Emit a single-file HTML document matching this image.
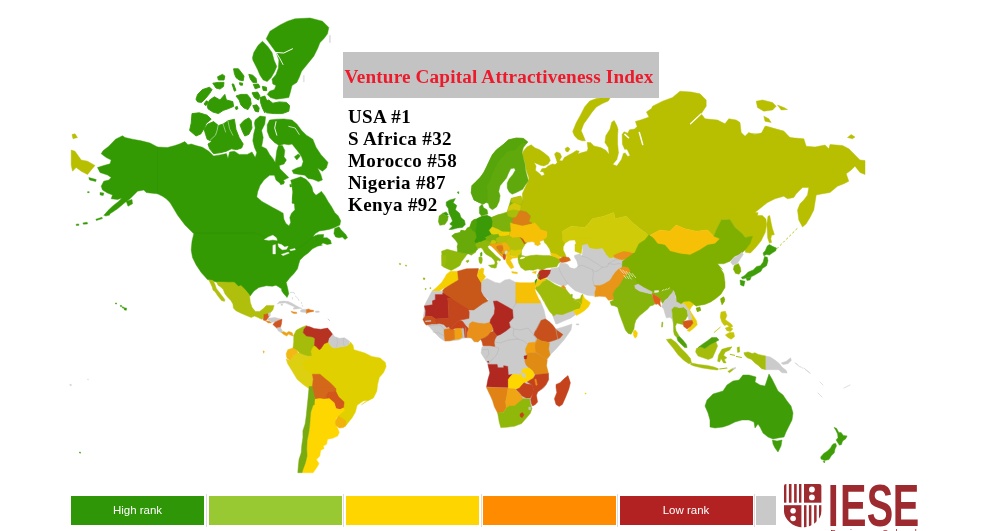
<!DOCTYPE html>
<html><head><meta charset="utf-8"><title>Venture Capital Attractiveness Index</title>
<style>
html,body{margin:0;padding:0;background:#fff;}
body{width:1000px;height:531px;position:relative;overflow:hidden;font-family:"Liberation Sans",sans-serif;}
#map{position:absolute;left:0;top:0;}
.title{position:absolute;left:343px;top:52px;width:316px;height:45.5px;background:#c3c3c3;}
.title span{position:absolute;left:-2px;top:14.6px;width:316px;text-align:center;font-family:"Liberation Serif",serif;font-weight:bold;font-size:19.2px;letter-spacing:.16px;line-height:20px;color:#ec1a2b;white-space:nowrap;}
.ranks{position:absolute;left:348px;top:105.8px;font-family:"Liberation Serif",serif;font-weight:bold;font-size:19px;letter-spacing:.4px;line-height:22px;color:#000;white-space:nowrap;}
.lg{position:absolute;top:496px;height:29px;}
.lg span{display:block;text-align:center;color:#fff;font-size:11.5px;line-height:28px;}
.sep{position:absolute;top:494px;width:1px;height:33px;background:#ddd;}
.iese{position:absolute;left:828px;top:476px;font-family:"Liberation Sans",sans-serif;font-size:52px;line-height:58px;color:#9e2a2b;transform-origin:0 0;transform:scaleX(0.78);letter-spacing:-1px;white-space:nowrap;}
.bs{position:absolute;left:829px;top:527px;font-size:8px;color:#9e2a2b;white-space:nowrap;letter-spacing:.5px}
</style></head><body>
<svg id="map" width="1000" height="531" viewBox="0 0 1000 531" shape-rendering="geometricPrecision">
<path d="M71.2 150L75 151.2L81.2 160L87.5 161.2L95 165.5L91.2 170L87.5 174.5L81.2 171.2L76.2 167.5L72.5 171.2L71.2 165Z" fill="#b7bf00" stroke="#b7bf00" stroke-width="0.45" stroke-linejoin="round"/>
<path d="M72 134.5L75 133.8L77.5 137.5L73 138.8Z" fill="#b7bf00" stroke="#b7bf00" stroke-width="0.45" stroke-linejoin="round"/>
<path d="M101.2 153.8L103 150.8L108.8 146.2L115.5 139.2L122.5 135.8L125 137.5L132.5 139.2L141.2 140.8L150 143L157.5 147L167.5 147.5L175 145.5L180 143.8L184.8 141.6L188 144.8L191.2 144L196 145.6L202.4 147.2L208.8 151.2L213.6 156L220 154.9L226.4 153.6L228 158.4L229.6 152L234.4 151.2L239.2 154.4L247.2 154.4L252 152L255.2 157.6L256.8 152.8L254.4 147.2L252.8 140.8L253.6 134.4L255.2 128L254.4 123.2L255.2 120L260 116L265.6 116.8L264.8 124L261.6 130.4L263.2 137.6L262.4 142.4L261.6 146.4L266.4 148.8L269.6 154.4L272.8 158.4L275.2 162.4L276 156.8L276.8 150.4L278.4 145.6L282.4 145.6L284.8 150.4L284 156.8L286.4 160L284 164L279.2 165.6L280 168.8L284 172.8L288.8 177.6L284 180L280 183.2L276 180L274.4 175.2L269.6 175.2L264 180L260 185.6L257.6 192L256.8 196.8L256.8 197.1L261.9 201.4L267.8 204.7L273.7 208.1L278.8 210.7L283.1 213.2L283.9 219.2L285.9 223.4L289 225.9L290.7 222.5L289.8 217.5L291.5 213.2L294.9 209.8L294.4 203.9L292.4 198.8L293.2 192L292.4 186.9L290.7 180.2L295.8 178.5L300.8 176.8L305.9 179.3L309.3 182.7L311.9 186.9L313.1 192L315.3 197.1L317.8 200.5L320.3 195.4L321.2 191.2L324.6 195.4L328 201.4L331.4 206.4L334.7 212.4L338.1 215.8L340.7 220.8L339.8 225.1L334.7 227.6L329.7 229.3L324.6 230.2L319.5 231L315.3 233.6L312.7 236.9L317.8 234.7L323.7 234.4L323.2 237.8L327.1 237.8L330.5 240.3L331.4 243.7L327.1 244.6L322.9 242.9L320.3 245.4L322.5 245L317.5 246.2L312.5 248.8L308.8 252.5L303.8 256.2L300 260L298.8 263.8L297.5 268.8L293.8 273.8L290 277.5L286.2 282.5L287.5 287.5L288.8 293.8L287 297.5L285.8 296L283.5 293.5L281.8 291L281.5 288.8L278.5 286.8L276 285.2L272.5 286.2L266.2 285.8L258.8 287.5L253.8 291.2L250 296.2L245 291.2L240 286.2L236.2 287.5L231.2 283.8L225 282.5L216.2 282L207.5 279.5L201.2 272.5L196.2 265L192.5 257.5L191.2 250L192 241.2L193.8 233.8L185 225L181.2 220L177.5 215L173.8 208.8L170 202.5L166.2 198.8L162.5 196.2L157.5 193.8L150 193L146.2 192.5L143.8 190L137.5 191.2L133.8 195L130 198.8L125 202.5L117.5 208.8L110 213.8L103.8 215.5L108 210.5L112.5 206.2L118.8 201.2L122 198L117.5 199.5L111.2 198.8L112.5 195L107.5 193L102.5 190L101.2 186.2L103.8 181.2L108.8 180L111.2 177.5L107.5 175L100 172.5L97.5 167.5L103.8 165.5L110 163.8L111.2 160L106.2 157.5Z" fill="#349a03" stroke="#349a03" stroke-width="0.45" stroke-linejoin="round"/>
<path d="M88.8 177.5L96.2 179.5L95.8 181.5L89.5 180Z" fill="#349a03" stroke="#349a03" stroke-width="0.45" stroke-linejoin="round"/>
<path d="M100 192.5L103.8 193L103.2 195.5L100.2 195Z" fill="#349a03" stroke="#349a03" stroke-width="0.45" stroke-linejoin="round"/>
<path d="M126.2 201.2L132 199.5L132.5 203.8L128 206.2Z" fill="#349a03" stroke="#349a03" stroke-width="0.45" stroke-linejoin="round"/>
<path d="M104.9 214.4L109.2 213.4L109.7 215.1L105.4 216.1Z" fill="#349a03" stroke="#349a03" stroke-width="0.45" stroke-linejoin="round"/>
<path d="M95.9 219.2L102 217.3L102.4 218.6L96.4 220.5Z" fill="#349a03" stroke="#349a03" stroke-width="0.45" stroke-linejoin="round"/>
<path d="M82.9 222.9L87.1 222.2L87.5 223.9L83.4 224.2Z" fill="#349a03" stroke="#349a03" stroke-width="0.45" stroke-linejoin="round"/>
<path d="M76.1 224.2L78.6 223.9L79 225.3L76.4 225.6Z" fill="#349a03" stroke="#349a03" stroke-width="0.45" stroke-linejoin="round"/>
<path d="M87.6 191.7L89.2 191.7L89.2 192.7L87.6 192.7Z" fill="#349a03" stroke="#349a03" stroke-width="0.45" stroke-linejoin="round"/>
<path d="M216.4 281.9L225.8 282.2L234.2 282.2L238.5 286.4L241 285.6L245.3 289.8L249.5 295.1L250.3 302.2L252 307.3L255.4 311.5L259.7 311.5L263.9 308.1L266.4 305.6L274.1 305.6L272.9 309.8L270.7 312.4L268.1 313.7L264.7 314.4L263.9 318.3L261.4 319.2L258 317.5L254.6 316.1L251.2 317.5L246.9 315.8L241 313.2L235.9 310.7L233.4 308.1L232.9 303.9L230.8 300.5L227.5 297.1L224.9 293.7L223.2 289.5L220.7 286.9L218.1 285.3Z" fill="#b0bf0c" stroke="#b0bf0c" stroke-width="0.45" stroke-linejoin="round"/>
<path d="M208.8 279.8L213.1 280.5L214.7 283.6L216.4 288.6L219.8 292.9L222.4 296.3L224.9 299.7L224.4 301.4L221.5 300.5L218.1 296.3L214.7 291.2L213.1 290.3L212.2 286.9L210.5 283.6Z" fill="#b0bf0c" stroke="#b0bf0c" stroke-width="0.45" stroke-linejoin="round"/>
<path d="M334.7 228.5L339 226.8L340.7 229.3L343.2 231.9L345.8 234.4L347.5 237.8L344.9 239.5L342.4 236.9L339 237.8L335.6 236.9L333.9 233.6Z" fill="#349a03" stroke="#349a03" stroke-width="0.45" stroke-linejoin="round"/>
<path d="M264.4 239.5L268.6 236.9L272.9 235.3L276.3 237.8L277.1 240.3L272.9 239.8L268.6 240.3Z" fill="#ffffff" stroke="#ffffff" stroke-width="0.45" stroke-linejoin="round"/>
<path d="M272.9 245.4L275.4 244.6L275.4 253.9L272.9 253.9Z" fill="#ffffff" stroke="#ffffff" stroke-width="0.45" stroke-linejoin="round"/>
<path d="M278 243.7L281.4 244.6L284.7 247.1L288.1 246.3L286.4 249.3L282.2 249.7L278.8 247.1Z" fill="#ffffff" stroke="#ffffff" stroke-width="0.45" stroke-linejoin="round"/>
<path d="M281.4 254.4L288.1 252.2L289.3 253.1L283.1 255.6Z" fill="#ffffff" stroke="#ffffff" stroke-width="0.45" stroke-linejoin="round"/>
<path d="M289.8 249.7L294.9 248.5L295.4 249.7L290.7 250.7Z" fill="#ffffff" stroke="#ffffff" stroke-width="0.45" stroke-linejoin="round"/>
<path d="M279.7 181.5L283.6 181L283.9 183.9L280.5 184.6Z" fill="#349a03" stroke="#349a03" stroke-width="0.45" stroke-linejoin="round"/>
<path d="M289.8 184.4L291.5 184.4L291.7 186.9L290 186.9Z" fill="#349a03" stroke="#349a03" stroke-width="0.45" stroke-linejoin="round"/>
<path d="M196.2 233L254.8 233L261.6 235.5L265.9 237.6" fill="none" stroke="#2f8d0a" stroke-width="0.45" stroke-linejoin="round" stroke-linecap="round"/>
<path d="M295.6 248.8L302.4 245.7L306.7 242.3L311 238.1L316.1 235.5L318.1 237.6L316.1 240.6" fill="none" stroke="#2f8d0a" stroke-width="0.45" stroke-linejoin="round" stroke-linecap="round"/>
<path d="M157.5 147L157.5 193.8" fill="none" stroke="#2f8d0a" stroke-width="0.45" stroke-linejoin="round" stroke-linecap="round"/>
<path d="M295 18.8L310 18L322.5 21.2L328.8 27.5L327.5 33.8L323.8 38.8L320 42.5L317.5 48.8L313.8 56.2L301.6 71.2L299.2 77.6L296.8 82.4L292 85.6L290.4 92L288.8 97.6L282.4 98.4L276 99.2L270.4 97.6L267.2 94.4L269.6 91.2L274.4 89.6L276 85.6L272.8 84L272 79.2L276 74.4L278.4 68L278.9 60L276.2 52.5L272.5 47.5L266.2 38.8L270 31.2L280 25L287.5 21.2Z" fill="#349a03" stroke="#349a03" stroke-width="0.45" stroke-linejoin="round"/>
<path d="M258 45.5L262.5 41.2L267.5 46.2L272 52.5L274 60L276.8 66.4L274.4 72L271.2 77.6L267.2 81.6L263.2 80L260 75.2L257.6 69.6L255.2 64.8L252.8 60L252.5 57.5L253.8 52.5Z" fill="#349a03" stroke="#349a03" stroke-width="0.45" stroke-linejoin="round"/>
<path d="M276.2 52.5L283.8 53L292.5 48.8" fill="none" stroke="#ffffff" stroke-width="1" stroke-linejoin="round" stroke-linecap="round"/>
<path d="M276.2 52.5L280 58.8L283 64.5" fill="none" stroke="#ffffff" stroke-width="0.9" stroke-linejoin="round" stroke-linecap="round"/>
<path d="M263.2 101.6L268.8 100L272.8 103.2L279.2 101.9L286.4 102.4L289.6 105.6L288.8 111.2L282.4 113.6L274.4 113.6L266.4 112.8L263.2 108Z" fill="#349a03" stroke="#349a03" stroke-width="0.9" stroke-linejoin="round"/>
<path d="M260 97.6L264.8 96L267.2 101.6L264.8 112.8L262.4 108L260.8 103.2Z" fill="#349a03" stroke="#349a03" stroke-width="0.9" stroke-linejoin="round"/>
<path d="M233.6 68.8L238.4 68.8L241.6 72.8L244 76L243.2 80.8L239.2 80L236 77.6L234.4 73.6Z" fill="#349a03" stroke="#349a03" stroke-width="0.9" stroke-linejoin="round"/>
<path d="M248.8 74.4L252.8 75.2L256 78.4L256.8 82.4L252.8 82.4L250.4 79.2Z" fill="#349a03" stroke="#349a03" stroke-width="0.9" stroke-linejoin="round"/>
<path d="M217.6 76.8L222.4 74.4L224.8 76L224 80L218.4 80Z" fill="#349a03" stroke="#349a03" stroke-width="0.9" stroke-linejoin="round"/>
<path d="M212.8 83.2L218.4 82.4L224 82.4L223.5 86.4L220 89.1L216 88Z" fill="#349a03" stroke="#349a03" stroke-width="0.9" stroke-linejoin="round"/>
<path d="M232 84L233.6 84L236 90.4L234.4 91.2Z" fill="#349a03" stroke="#349a03" stroke-width="0.9" stroke-linejoin="round"/>
<path d="M253.3 84.3L258.4 84L260 87.2L255.2 88.8Z" fill="#349a03" stroke="#349a03" stroke-width="0.9" stroke-linejoin="round"/>
<path d="M262.4 86.4L266.4 87.2L266.7 90.7L263.2 90.4Z" fill="#349a03" stroke="#349a03" stroke-width="0.9" stroke-linejoin="round"/>
<path d="M239.5 82.7L242.7 83.2L242.4 85.3L240 85Z" fill="#349a03" stroke="#349a03" stroke-width="0.9" stroke-linejoin="round"/>
<path d="M196 99.2L197.6 94.4L202.4 89.6L209.6 87.2L212 89.6L209.6 93.6L205.6 98.4L201.6 102.4L197.6 101.9Z" fill="#349a03" stroke="#349a03" stroke-width="0.9" stroke-linejoin="round"/>
<path d="M204 104L206.4 100.8L208.5 101.9L205.9 105.6Z" fill="#349a03" stroke="#349a03" stroke-width="0.9" stroke-linejoin="round"/>
<path d="M207.2 105.6L209.6 100L214.4 96.8L220 100L224.8 94.4L226.4 100L232.8 101.6L233.6 106.4L228 108.8L223.2 110.4L218.4 113.6L212.8 112L208 108.8Z" fill="#349a03" stroke="#349a03" stroke-width="0.9" stroke-linejoin="round"/>
<path d="M235.2 107.2L237.3 106.4L237.9 108.8L236 109.6Z" fill="#349a03" stroke="#349a03" stroke-width="0.9" stroke-linejoin="round"/>
<path d="M236 96L240.8 94.4L247.2 94.4L250.4 98.4L251.2 104L248 109.6L244 108L240.8 104.8L239.2 100Z" fill="#349a03" stroke="#349a03" stroke-width="0.9" stroke-linejoin="round"/>
<path d="M252 92.8L257.6 92L260 96L258.4 100L254.4 97.6Z" fill="#349a03" stroke="#349a03" stroke-width="0.9" stroke-linejoin="round"/>
<path d="M252.8 105.6L256.8 104.8L259.2 108L258.4 112L255.2 111.2Z" fill="#349a03" stroke="#349a03" stroke-width="0.9" stroke-linejoin="round"/>
<path d="M192 113.6L199.2 112.8L207.2 115.2L211.2 119.2L206.4 123.2L204 128.8L200.8 133.9L196 136L189.6 130.4L191.2 123.2Z" fill="#349a03" stroke="#349a03" stroke-width="0.9" stroke-linejoin="round"/>
<path d="M204 128.8L208 124L213.6 121.6L218.4 125.6L223.2 124L228 120.8L234.4 119.2L236 129.6L239.2 137.6L243.2 144L241.6 148L236.8 149.6L231.2 148.8L226.4 151.2L220 152.8L213.6 153.6L209.6 148.8L208 144L212 141.6L207.2 139.2L205.6 134.4Z" fill="#349a03" stroke="#349a03" stroke-width="0.9" stroke-linejoin="round"/>
<path d="M240 124.8L244 120.5L248.8 117.9L251.2 120.8L252 128L248.8 134.4L244.8 136L242.4 131.2Z" fill="#349a03" stroke="#349a03" stroke-width="0.9" stroke-linejoin="round"/>
<path d="M218.1 125.3L217.1 130.4L215.5 135.2L210.4 140" fill="none" stroke="#ffffff" stroke-width="0.5" stroke-linejoin="round" stroke-linecap="round"/>
<path d="M228 121.1L229.6 128.8L232.8 135.2" fill="none" stroke="#ffffff" stroke-width="0.45" stroke-linejoin="round" stroke-linecap="round"/>
<path d="M223.2 124.3L225.6 132" fill="none" stroke="#ffffff" stroke-width="0.45" stroke-linejoin="round" stroke-linecap="round"/>
<path d="M269.6 120L276 119.2L284 118.9L292 120L296.8 124L301.6 130.4L306.4 135.2L312.8 139.2L316 147.2L320.8 154.4L328 162.4L326.4 168L322.4 171.2L317.6 168L320.8 174.4L322.4 180L318.4 181.6L312.8 179.2L308 178.4L304.8 175.2L299.2 174.4L293.6 173.6L292 170.4L296.8 168L301.6 166.4L303.2 161.6L301.6 156.8L298.4 152L295.2 148L292 144L288.8 144.8L284 144L279.2 145.6L274.4 142.4L269.6 137.6L267.2 131.2L267.2 124.8Z" fill="#349a03" stroke="#349a03" stroke-width="0.45" stroke-linejoin="round"/>
<path d="M276 121.6L274.7 128L276.8 135.2" fill="none" stroke="#ffffff" stroke-width="0.9" stroke-linejoin="round" stroke-linecap="round"/>
<path d="M288.8 126.4L295.2 128L299.2 134.4" fill="none" stroke="#ffffff" stroke-width="0.7" stroke-linejoin="round" stroke-linecap="round"/>
<path d="M292 184L298.4 182.4L304.8 185.6L311.2 190.4L316 195.2L320.8 192L324 196.8L326.4 203.2L320.8 206.4L311.2 207.2L301.6 204.8L292 203.2L292.8 192Z" fill="#349a03" stroke="#349a03" stroke-width="0.45" stroke-linejoin="round"/>
<path d="M294.4 156.8L298.4 153.9L300.3 156L296.8 160Z" fill="#349a03" stroke="#349a03" stroke-width="0.45" stroke-linejoin="round"/>
<path d="M280 182.7L283.2 180.8L284.8 182.1L281.1 184.3Z" fill="#349a03" stroke="#349a03" stroke-width="0.45" stroke-linejoin="round"/>
<path d="M309.8 356.4L309 351.4L310.7 347.1L313.2 343.7L315.8 345.4L318.3 348L320.8 347.1L323.9 342.4L328.5 340.3L329.3 343.7L331.9 347.1L335.3 348L340.3 346.8L345.4 346.3L348.8 344.6L350.5 342L353.1 345.4L353.9 349.7L359.8 351.4L364.9 353.1L371.7 356.4L380.2 358.1L385.3 362.4L386.1 366.6L383.6 372.5L379.3 377.6L377.6 384.4L376.8 391.2L373.4 398L366.6 401.4L361.5 404.7L374.1 395.9L368.1 400.2L363.1 401L357.1 405.3L355.4 412L352 418L347.8 423.1L345.3 426.4L341 426.4L337.6 422.2L337.6 415.4L342.7 411.2L341.9 401.9L336.8 396.8L334.2 390.8L334.4 394.6L332.7 386.9L328.5 383.6L324.2 380.2L318.3 375.9L310.7 375.9L306.4 372.5L302.2 370L300.5 364.1L303.1 359.8Z" fill="#e0d000" stroke="#e0d000" stroke-width="0.45" stroke-linejoin="round"/>
<path d="M286.1 359L290.3 360.7L293.7 355.6L298 353.1L299.7 353.1L303.9 354.7L308.1 355.9L311.5 355.6L310.7 359L304.7 360.7L302.2 364.1L303.9 369.2L308.1 371.7L312.4 374.2L313.2 379.3L312.4 385.3L311.5 389.5L309 388.6L303.1 384.4L297.1 379.3L292 370.8L287.8 364.1Z" fill="#ddd010" stroke="#ddd010" stroke-width="0.45" stroke-linejoin="round"/>
<path d="M312.4 374.2L320 374.2L325.9 379.3L330.2 382.7L334.4 386.9L336.1 392.9L328.5 392.9L326.8 398.8L319.2 399.3L314.9 397.1L312.4 391.2L311.5 389.5L312.4 385.3L313.2 379.3Z" fill="#d4681a" stroke="#d4681a" stroke-width="0.45" stroke-linejoin="round"/>
<path d="M312.2 388.3L335.9 388.3L335.9 391.7L328.3 392.5L325.8 396.8L324.9 399.3L319.8 398.5L314.7 399.3L313.9 395.1Z" fill="#d4681a" stroke="#d4681a" stroke-width="0.45" stroke-linejoin="round"/>
<path d="M328.3 392.5L335.9 391.7L338.5 396.8L344.1 401.9L343.6 407.8L340.2 409.5L335.9 408.6L334.2 402.7L329.2 398.5L325.8 396.8Z" fill="#d2571c" stroke="#d2571c" stroke-width="0.45" stroke-linejoin="round"/>
<path d="M328.5 392.9L336.1 392.9L338.6 398L341.2 401.4L337.8 404.7L331 401.4L326.8 398.8Z" fill="#d2571c" stroke="#d2571c" stroke-width="0.45" stroke-linejoin="round"/>
<path d="M314.7 399.3L319.8 398.5L324.9 399.3L329.2 398.5L334.2 402.7L335.9 408.6L340.2 409.5L343.6 407.8L344.4 410.3L338.5 415.4L335.9 418.8L335.1 423.9L337.6 428.1L339.3 432.4L337.6 436.1L332.5 438.3L327.5 439.2L326.6 444.2L323.2 445.9L324.1 448.5L320.7 450.2L319.8 456.1L316.4 459.5L319 463.7L316.4 468L313.1 472.7L302 472.7L302.9 469.7L305.4 462.9L307.1 456.1L306.8 449.3L307.1 440.8L308.8 432.4L309.7 425.6L310.2 418.8L310.8 412L313.1 405.3Z" fill="#ffd700" stroke="#ffd700" stroke-width="0.45" stroke-linejoin="round"/>
<path d="M335.9 419.7L338.5 416.3L341.9 418L345.3 420.5L346.1 424.7L343.6 427.6L339.3 428.1L335.9 425.6L335.1 423.1Z" fill="#f2b20c" stroke="#f2b20c" stroke-width="0.45" stroke-linejoin="round"/>
<path d="M309.2 386.6L312.2 386.6L313.9 395.1L314.7 399.3L313.1 405.3L310.8 412L310.2 418.8L309.7 425.6L308.8 432.4L307.1 440.8L306.8 449.3L307.1 456.1L305.4 462.9L302.9 469.7L302 472.7L297.8 472.7L298.3 466.3L299 459.5L301.2 452.7L301.7 445.9L302.9 437.5L302.9 430.7L305.1 423.9L306.3 415.4L307.1 406.9L308 398.5Z" fill="#78ab10" stroke="#78ab10" stroke-width="0.45" stroke-linejoin="round"/>
<path d="M309.3 389.2L311.5 389.5L312.4 391.2L314.4 397.1L314.4 404.7L310.7 404.7L309.3 399.7Z" fill="#78ab10" stroke="#78ab10" stroke-width="0.45" stroke-linejoin="round"/>
<path d="M293.7 335.3L296.3 330.2L301.4 327.6L306.4 325.4L303.9 329.3L303.1 332.7L306.4 336.1L312.4 336.9L314.9 338.6L314.4 345.4L312 348L310.7 351.4L311.5 355.6L308.1 355.9L303.9 354.7L299.7 353.1L297.1 350.5L292.9 348.8L293.7 342Z" fill="#a5bd0a" stroke="#a5bd0a" stroke-width="0.45" stroke-linejoin="round"/>
<path d="M303.9 329.3L306.4 325.9L309.8 326.8L314.1 328.5L320.8 329.3L327.6 328.1L330.2 331L332.7 334.4L329.3 338.6L328.5 342L324.2 343.7L320.8 348.8L319.2 349.7L315.8 346.3L314.4 345.4L314.9 338.6L312.4 336.9L306.4 336.1L303.1 332.7Z" fill="#b83222" stroke="#b83222" stroke-width="0.45" stroke-linejoin="round"/>
<path d="M332.7 334.4L335.3 336.9L339.5 338.3L344.6 337.8L349.7 341.2L348.8 344.6L345.4 346.3L340.3 346.8L335.3 348L331.9 347.1L329.3 343.7L328.5 342L329.3 338.6Z" fill="#cbcbcb" stroke="#cbcbcb" stroke-width="0.45" stroke-linejoin="round"/>
<path d="M336.4 337.8L337.8 342L336.1 347.5" fill="none" stroke="#b9b9b9" stroke-width="0.5" stroke-linejoin="round" stroke-linecap="round"/>
<path d="M343.7 338.3L343.2 342.9L344.6 346.3" fill="none" stroke="#b9b9b9" stroke-width="0.5" stroke-linejoin="round" stroke-linecap="round"/>
<path d="M287.8 349.7L292.9 348L297.1 350.5L298 353.1L293.7 355.6L290.3 360.7L286.9 358.1L286.1 353.9Z" fill="#f2b814" stroke="#f2b814" stroke-width="0.45" stroke-linejoin="round"/>
<path d="M263.1 350.8L264.4 351.6L263.6 353.2Z" fill="#f2a814" stroke="#f2a814" stroke-width="0.45" stroke-linejoin="round"/>
<path d="M263.9 314.4L268.1 313.7L269 316.6L267.3 319.2L265.6 320.8L263.1 320L263.9 317.5Z" fill="#d45a1c" stroke="#d45a1c" stroke-width="0.45" stroke-linejoin="round"/>
<path d="M268.6 313.2L270.3 312.4L270.3 316.1L269 316.6Z" fill="#cbcbcb" stroke="#cbcbcb" stroke-width="0.45" stroke-linejoin="round"/>
<path d="M265.6 320.8L269.8 321.2L271.5 322.9L268.1 322.9Z" fill="#e8901a" stroke="#e8901a" stroke-width="0.45" stroke-linejoin="round"/>
<path d="M268.1 318.3L274.9 317.5L281.7 319.2L278.3 320.5L274.9 322.2L271.5 322.2L269.8 320.8L267.3 319.5Z" fill="#cbcbcb" stroke="#cbcbcb" stroke-width="0.45" stroke-linejoin="round"/>
<path d="M274.9 322.2L278.3 320.5L282 319.2L281.4 324.2L280.3 327.6L276.6 328L272.9 324.6Z" fill="#cf5420" stroke="#cf5420" stroke-width="0.45" stroke-linejoin="round"/>
<path d="M276.6 328L280.3 327.6L282.5 331L281.4 332.7L278.3 331Z" fill="#cbcbcb" stroke="#cbcbcb" stroke-width="0.45" stroke-linejoin="round"/>
<path d="M281.4 332.4L283.7 331.4L286.4 333.1L288.8 331.4L292.2 332.7L293.2 336.1L291 335.3L288.5 334.1L286.8 336.1L283.7 334.4Z" fill="#eba41a" stroke="#eba41a" stroke-width="0.45" stroke-linejoin="round"/>
<path d="M277.2 304.1L279.3 301.5L283.6 301.1L288.2 301.5L292 303.2L296.3 305.8L299.7 307.5L301.8 308.3L298 308.7L293.7 309.2L293.3 307.9L295.4 307.2L292 305.8L288.2 304.1L285.3 302.8L281.9 303.2L279.3 303.2Z" fill="#cbcbcb" stroke="#cbcbcb" stroke-width="0.45" stroke-linejoin="round"/>
<path d="M281 304.3L282.5 304.3L282.5 305.3L281 305.3Z" fill="#cbcbcb" stroke="#cbcbcb" stroke-width="0.45" stroke-linejoin="round"/>
<path d="M291.2 311.3L293.7 311.9L296.7 312.3L296.7 313.4L293.7 313.4L291.6 312.3Z" fill="#e8901a" stroke="#e8901a" stroke-width="0.45" stroke-linejoin="round"/>
<path d="M300.5 310.4L302.2 309.2L306.3 309.4L306.3 312.5L303.9 312.3L300.7 311.9Z" fill="#cbcbcb" stroke="#cbcbcb" stroke-width="0.45" stroke-linejoin="round"/>
<path d="M306.4 309.6L308.6 308.9L310.7 310L313.6 310.3L313.6 311.4L310.7 311.9L308.1 312.5L306.4 313.6Z" fill="#e07820" stroke="#e07820" stroke-width="0.45" stroke-linejoin="round"/>
<path d="M315.3 311.1L319.2 311.1L319.2 312.3L315.8 312.5Z" fill="#cbcbcb" stroke="#cbcbcb" stroke-width="0.45" stroke-linejoin="round"/>
<path d="M290.3 292.6L292.2 292.3L294.2 292.8L294.6 293.8" fill="none" stroke="#d6d6d6" stroke-width="0.9" stroke-linejoin="round" stroke-linecap="round"/>
<path d="M295.3 296L296.9 297.5L298.5 299L298.8 300.4" fill="none" stroke="#d6d6d6" stroke-width="0.8" stroke-linejoin="round" stroke-linecap="round"/>
<path d="M292.3 297.5L292.5 299" fill="none" stroke="#d6d6d6" stroke-width="0.8" stroke-linejoin="round" stroke-linecap="round"/>
<path d="M301.4 302.4L301.7 303.6" fill="none" stroke="#d6d6d6" stroke-width="0.8" stroke-linejoin="round" stroke-linecap="round"/>
<path d="M302.2 305.2L302.5 306.2" fill="none" stroke="#d6d6d6" stroke-width="0.8" stroke-linejoin="round" stroke-linecap="round"/>
<path d="M328.1 319.1L329.7 320.6" fill="none" stroke="#cbcbcb" stroke-width="0.9" stroke-linejoin="round" stroke-linecap="round"/>
<path d="M522.7 151.9L526.9 146.9L531.2 144.8L534.7 147.7L539.7 149.8L544.6 153.3L548.8 156.8L550.3 160.4L548.1 163.9L543.9 166L540.4 165.3L537.5 163.9L534 162.5L536.1 166L535.4 170.3L539.7 173.8L541.8 175.9L544.6 174.5L543.2 171.7L540.4 171.7L541.8 168.8L546 168.1L548.1 166L552.4 163.9L555.2 164.6L557.3 162.5L555.9 158.2L554.5 154L556.6 151.9L560.1 153.3L561.6 156.8L559.4 160.4L562.3 161.1L564.4 157.5L567.9 155.4L572.1 153.3L576.4 150.5L579.2 151.2L577.8 154L582 152.6L587 151.2L588 148.5L587.1 142.5L590.5 142.5L593.9 145.9L600.7 147.6L605.8 150.2L609.2 154.4L608.3 147.6L604.9 142.5L605.8 135.8L610 129L611.7 122.2L614.2 120.5L616.8 125.6L618.5 130.7L623.6 131.5L627.8 133.2L629.5 129.8L634.6 129L637.1 126.4L635.4 121.4L641.4 119.7L649 117.1L646.4 112L651.5 108.6L652.5 106.2L662.5 101.2L672.5 97.5L680 91.2L691.2 92L700 93.8L706.2 100L706.2 106.2L701.2 113.8L705 118.8L717.5 120L725 123.8L728.8 118.8L736.2 120L740 122.5L741.2 132.5L745 136.2L748.8 132.5L755 135L762.5 132.5L766.2 126.2L775 128.8L783.8 131.2L790 137.5L800 140L750 133.8L761.2 133.8L765 126.2L775 128.8L783.8 131.2L788.8 137.5L803.8 138.8L806.2 146.2L815 147L825 145L828.8 148.8L830 144.5L842.5 145.5L848.8 148.8L855 155L860 160L865 160.5L865 174.5L860 172.5L855 166.2L851.2 170L846.2 173.8L848.8 181.2L843.8 183.8L837.5 186.2L830 192.5L822.5 193.8L816.2 195L813.8 210L810 217.5L806.2 223.8L802.5 227L798.8 220L797.5 210L800 203.8L803.8 200L807.5 195L808.8 187.5L802.5 187.5L796.2 193.8L793.8 197.5L787.5 198.8L783.8 196.2L775 198.8L767.5 202.5L761.2 207.5L755 212.5L758.1 212.7L757.4 215.5L762.4 215.5L765.9 219.1L766.6 224.7L765.2 232.5L761 241L755.3 248L750.4 253L745.4 252.3L744.7 246.6L749 245.2L749.7 241.7L751.8 236.7L743.3 237.4L745 237.5L742.5 233.8L735 227.5L730 219.5L721.2 220L716.2 230L713.8 236.2L707.5 230L696.2 231.2L685 228.8L676.2 225L670 231.2L660 230L650.5 235L648.8 235L640 228.8L632.5 222.5L626.2 216.2L615 218.8L613.8 212.5L603.8 216.2L592.5 218.8L585 227.5L571.2 226.2L562.5 231.2L562.4 231.2L564 240.8L568.8 243.2L564 247.2L565.9 252.8L567.2 257.8L560.3 256.8L551.8 253.3L548 252L546.4 248.8L543.2 243.2L541.6 240.8L547.2 236.8L546.4 231.2L538.4 228L532 223.2L528.8 221.6L530.4 216L526.4 212L520 210.4L520.8 205.6L522.4 200.8L522.4 193.6L525.6 186.4L528.8 180L528.8 177.5L526.2 170L525 162.5L522.5 155Z" fill="#b7bf00" stroke="#b7bf00" stroke-width="0.45" stroke-linejoin="round"/>
<path d="M618.5 129.8L624.1 131L621.7 134.4L622 144.2L624.4 149.7L626.9 149.7L629.5 155.3L627.8 156.1L625.3 152.4L623.1 153.1L621 159.5L616.8 165.4L613.4 164.2L617.3 159.5L619 152.7L618 144.2L618 134.4Z" fill="#fff" stroke="#fff" stroke-width="0.45" stroke-linejoin="round"/>
<path d="M624.9 134.4L628.6 137.8" fill="none" stroke="#fff" stroke-width="1.5" stroke-linejoin="round" stroke-linecap="round"/>
<path d="M639.3 132.4L641 138.3L642.7 144.6" fill="none" stroke="#fff" stroke-width="1.5" stroke-linejoin="round" stroke-linecap="round"/>
<path d="M701.2 113.8L690.5 123.8" fill="none" stroke="#fff" stroke-width="1.2" stroke-linejoin="round" stroke-linecap="round"/>
<path d="M572.7 131.5L576.1 123.1L580.3 115.4L584.6 106.9L589.7 101L596.4 98.5L604.1 97.6L610 98.1L608.3 101L602.4 103.6L596.4 106.9L592.2 112L588 118L583.7 123.9L581.2 130.7L583.7 136.6L585.4 140.8L582 140.8L577.8 139.2L574.4 135.8Z" fill="#b7bf00" stroke="#b7bf00" stroke-width="0.45" stroke-linejoin="round"/>
<path d="M565.1 148.4L567.9 146.9L570 149.1L567.9 151.9L565.8 151.2Z" fill="#b7bf00" stroke="#b7bf00" stroke-width="0.45" stroke-linejoin="round"/>
<path d="M756.2 101.2L762.5 100L772.5 102.5L776.2 106.2L772.5 110L763.8 111.2L757.5 107.5Z" fill="#b7bf00" stroke="#b7bf00" stroke-width="0.45" stroke-linejoin="round"/>
<path d="M777.5 105L783.8 107.5L787.5 109.5L781.2 110Z" fill="#b7bf00" stroke="#b7bf00" stroke-width="0.45" stroke-linejoin="round"/>
<path d="M763.8 116.2L768.8 118.8L771.2 122.5L765 121.2Z" fill="#b7bf00" stroke="#b7bf00" stroke-width="0.45" stroke-linejoin="round"/>
<path d="M847.5 137.5L851.2 134.5L855 137L852.5 138.8Z" fill="#b7bf00" stroke="#b7bf00" stroke-width="0.45" stroke-linejoin="round"/>
<path d="M768 216.2L769.7 215.5L770.8 221.2L772.3 228.2L774.4 234.6L771.6 235.3L770.8 238.8L771.6 242.4L769.4 243.1L767.7 238.1L767.3 231.1L766.9 224Z" fill="#b7bf00" stroke="#b7bf00" stroke-width="0.45" stroke-linejoin="round"/>
<path d="M777.2 248.4L778.3 247.3" fill="none" stroke="#b7bf00" stroke-width="0.9" stroke-linejoin="round" stroke-linecap="round"/>
<path d="M780.3 245.3L781.4 244.2" fill="none" stroke="#b7bf00" stroke-width="0.9" stroke-linejoin="round" stroke-linecap="round"/>
<path d="M783.4 242.2L784.5 241.1" fill="none" stroke="#b7bf00" stroke-width="0.9" stroke-linejoin="round" stroke-linecap="round"/>
<path d="M786.5 239.1L787.7 238" fill="none" stroke="#b7bf00" stroke-width="0.9" stroke-linejoin="round" stroke-linecap="round"/>
<path d="M789.6 236L790.8 234.9" fill="none" stroke="#b7bf00" stroke-width="0.9" stroke-linejoin="round" stroke-linecap="round"/>
<path d="M792.7 232.9L793.9 231.8" fill="none" stroke="#b7bf00" stroke-width="0.9" stroke-linejoin="round" stroke-linecap="round"/>
<path d="M795.8 229.8L797 228.7" fill="none" stroke="#b7bf00" stroke-width="0.9" stroke-linejoin="round" stroke-linecap="round"/>
<path d="M504.5 213.6L508.3 213.3L508.3 216.2L504.8 216Z" fill="#b7bf00" stroke="#b7bf00" stroke-width="0.45" stroke-linejoin="round"/>
<path d="M471.9 185.7L475.4 182.2L480.4 177.3L483.9 172.3L487 166L490.3 158.9L492.4 154.7L496.6 149.7L503 144.8L508.6 139.8L516.4 138L523.4 138.4L527.7 141.9L523.4 147.6L522 152.5L523.4 158.2L524.9 163.8L525.6 170.2L527 175.8L528.4 180.8L524.9 185.7L522.7 189.3L516.4 192.5L512.1 194.2L509.3 192.1L507.2 187.9L507.2 182.9L509.3 178.7L512.9 174.4L515.3 170.2L514.3 168.1L510.7 168.8L508.6 173L506.5 178L503 182.2L500.1 185.7L498.7 191.4L500.1 195.6L499.2 201.3L496.6 206.9L492.4 209.7L489.5 207.6L488.4 203.4L486 202.4L483.2 204.1L479 202.4L474 199.9L471.2 192.8Z" fill="#60a90c" stroke="#60a90c" stroke-width="0.45" stroke-linejoin="round"/>
<path d="M471.9 185.7L475.4 182.2L480.4 177.3L483.9 172.3L487 166L490.3 158.9L492.4 154.7L496.6 149.7L503 144.8L508.6 139.8L516.4 138L523.4 138.4L527.7 141.9L526.3 143.4L523.4 142.7L519.2 144.8L515.7 149.7L510.7 150.4L507.9 151.1L503.7 155.4L498 161.7L495.2 167.4L492.4 173L490.3 180.1L486.7 185.7L487.4 192.8L487 200L486 202.4L483.2 204.1L479 202.4L474 199.9L471.2 192.8Z" fill="#56a50a" stroke="#56a50a" stroke-width="0.45" stroke-linejoin="round"/>
<path d="M479.4 206.9L482.2 204.1L483.6 207.7L487.1 209.8L487.9 214L484.3 215.1L481.5 216.1L479.4 213.3Z" fill="#4fa30a" stroke="#4fa30a" stroke-width="0.45" stroke-linejoin="round"/>
<path d="M446.2 202L449.7 199.9L455.4 198.5L453.2 202.7L456.8 205.5L455.4 209.8L459.6 213.3L461 217.5L464.5 220.4L465.3 224.6L462.4 227.4L457.5 228.1L451.8 229.5L449 229.5L452.5 226L449.7 223.9L452.5 221.1L451.1 217.5L449 213.3L448.3 208.4L446.2 205.5Z" fill="#3a9a08" stroke="#3a9a08" stroke-width="0.45" stroke-linejoin="round"/>
<path d="M442.7 213.3L446.2 211.9L448.3 214.7L446.2 216.1Z" fill="#3a9a08" stroke="#3a9a08" stroke-width="0.45" stroke-linejoin="round"/>
<path d="M439.1 216.1L442.7 213.3L446.2 216.1L448.3 216.1L447.6 220.4L444.8 224.6L439.8 225.3L438.4 221.8Z" fill="#62a90c" stroke="#62a90c" stroke-width="0.45" stroke-linejoin="round"/>
<path d="M457.2 192.1L458.9 191.7L458.6 194Z" fill="#3a9a08" stroke="#3a9a08" stroke-width="0.45" stroke-linejoin="round"/>
<path d="M451.8 235.9L454.7 233.8L460.3 232.4L461 230.3L465.3 231L467.4 227.9L469.9 227L471.6 221.8L473.7 219.7L476.6 219L479.4 217.5L482.9 216.1L487.1 215.4L491.4 217.5L498.4 214.7L507.2 212L508.8 206.4L511.2 198.4L520.8 196L522.4 200.8L520.8 205.6L520 210.4L526.4 212L530.4 216L528.8 221.6L532 223.2L538.4 228L546.4 231.2L547.2 236.8L541.6 240.8L537.6 241.6L540.8 244.8L536 246.4L532 243.2L524 244L523.2 248.8L522.4 253.6L516 255.2L509.6 255.2L503.2 255.2L496.8 250.4L491.2 245.6L484 243.2L477.6 245.6L475.2 247.2L476 252L471.2 255.2L466.4 252.8L460 250.4L457.6 247.2L458.4 240.8L454.4 238.4Z" fill="#7db20c" stroke="#7db20c" stroke-width="0.45" stroke-linejoin="round"/>
<path d="M451.8 235.9L454.7 233.8L460.3 232.4L461 230.3L465.3 231L467.4 227.9L469.9 227L472.3 230.3L475.8 232.4L476.6 236.6L478.7 238.7L476.6 243L478 246.5L477.3 250L473 252.1L470.2 252.9L467.4 250.7L463.1 252.1L458.2 251.4L458.9 245.1L455.4 240.1Z" fill="#68aa0a" stroke="#68aa0a" stroke-width="0.45" stroke-linejoin="round"/>
<path d="M469.9 227L471.6 221.8L473.7 219.7L476.6 219L477 222.5L476.1 228.1L475.8 232.4L472.3 230.3Z" fill="#4ea208" stroke="#4ea208" stroke-width="0.45" stroke-linejoin="round"/>
<path d="M476.6 219L479.4 217.5L482.9 216.1L487.1 215.4L491.4 217.5L492.8 221.8L492.1 226.7L489.3 230.3L491.4 233.8L488.6 236.6L484.3 237.3L480.1 238.7L478.7 238.7L476.6 236.6L475.8 232.4L476.1 228.1L477 222.5Z" fill="#3a9a08" stroke="#3a9a08" stroke-width="0.45" stroke-linejoin="round"/>
<path d="M491.4 217.5L498.4 214.7L508.3 215.4L511.9 219.7L512.6 225.3L509.7 231.7L504.1 231L498.4 229.5L492.1 226.7L492.8 221.8Z" fill="#7db20c" stroke="#7db20c" stroke-width="0.45" stroke-linejoin="round"/>
<path d="M489.3 230.3L492.1 227L498.4 229.5L502 231.7L498.4 233.8L493.5 234.5L491.4 233.8Z" fill="#e6d20a" stroke="#e6d20a" stroke-width="0.45" stroke-linejoin="round"/>
<path d="M498.4 233.8L502 231.7L509.7 231.9L509 235.2L504.1 236.6L499.9 236.3Z" fill="#f5d000" stroke="#f5d000" stroke-width="0.45" stroke-linejoin="round"/>
<path d="M483.6 238.7L488.6 236.6L494.2 235.2L497 237.3L494.9 240.1L490 240.8L484.3 241.6Z" fill="#7db20c" stroke="#7db20c" stroke-width="0.45" stroke-linejoin="round"/>
<path d="M477.3 243L476.6 240.1L479.4 238.7L482.9 238.7L483.6 241.6L480.8 243Z" fill="#3a9a08" stroke="#3a9a08" stroke-width="0.45" stroke-linejoin="round"/>
<path d="M496.1 238.4L500.4 236.3L505.3 236L509.5 235.6L512.4 237.4L507.4 238.4L505.3 240.5L505.3 243.4L500.4 244.1L496.8 241.9Z" fill="#b0c00a" stroke="#b0c00a" stroke-width="0.45" stroke-linejoin="round"/>
<path d="M507.4 238.4L512.4 237.4L518 237L522.3 239.1L524.4 243.4L525.8 245.5L523.7 247.6L521.6 249.3L515.2 250.4L510.3 249.7L508.1 246.2L505.3 243.4L505.3 240.5Z" fill="#b5c008" stroke="#b5c008" stroke-width="0.45" stroke-linejoin="round"/>
<path d="M520.1 237L523 238.4L525.1 241.9L524.4 244.1L522.3 240.5Z" fill="#d4521c" stroke="#d4521c" stroke-width="0.45" stroke-linejoin="round"/>
<path d="M510.3 222.9L523.7 225L535 222.9L540.6 229.2L547 231.4L547 237L543.4 239.8L539.9 241.9L541.3 244.1L537.8 246.2L534.3 244.8L534.3 242.7L532.1 241.9L527.2 242.7L525.1 241.9L523 238.4L520.1 237L518 237L512.4 237.4L509.5 235.6L510.3 232.3L511 230.6Z" fill="#f5c006" stroke="#f5c006" stroke-width="0.45" stroke-linejoin="round"/>
<path d="M512.8 217.6L519.2 210.4L526.4 212L530.4 216L528.8 221.6L532 223.2L522.4 225.6L512.8 223.2Z" fill="#d97f16" stroke="#d97f16" stroke-width="0.45" stroke-linejoin="round"/>
<path d="M507.2 212L512.8 209.6L519.2 210.4L516 216.8L512.8 217.6L508 216Z" fill="#a8be0a" stroke="#a8be0a" stroke-width="0.45" stroke-linejoin="round"/>
<path d="M508.8 206.4L514.4 202.4L520.8 205.6L520 210.4L512.8 209.6L507.7 211.2Z" fill="#d4c808" stroke="#d4c808" stroke-width="0.45" stroke-linejoin="round"/>
<path d="M511.2 198.4L520.8 196L522.4 200.8L520.8 204.8L514.4 202.4L511.5 202.4Z" fill="#bcc208" stroke="#bcc208" stroke-width="0.45" stroke-linejoin="round"/>
<path d="M631 274.9L626.5 271.2L625 267.4L626.5 264.4L625 262.1L623.5 258.8L629.5 256.1L632.5 253.1L634.8 249.3L638.5 246.3L643.1 238.8L646.1 233.5L653.8 237.5L660 242.5L670 250L680 252.5L690 253.8L700 248.8L715 242.5L720 237.5L710 275L700 303.8L682.5 303L673.8 292.5L660 292L647.5 292L644.6 287.8L638.5 284.7L634 282.5Z" fill="#7fb000" stroke="#7fb000" stroke-width="0.45" stroke-linejoin="round"/>
<path d="M562.5 231.2L571.2 226.2L585 227.5L592.5 218.8L603.8 216.2L613.8 212.5L615 218.8L626.2 216.2L632.5 222.5L640 228.8L648.8 235L645 240L638.8 243.8L635 252.5L625 252.5L615 255L608.8 258.8L600 252.5L590 246.2L582.5 245L581.2 253.8L575 251.2L575 243.8L571.2 241.2L566.2 245L562.5 240Z" fill="#cfcb08" stroke="#cfcb08" stroke-width="0.45" stroke-linejoin="round"/>
<path d="M570.7 241.8L575.2 241L582 245.6L587.3 244L589.5 248.6L596.3 249.3L602.4 248.6L606.1 254.6L609.9 258.4L614.4 257.6L613.7 255.4L618.9 253.1L623.5 251.6L629.5 252.3L634.8 253.1L636.3 250.1L620.5 244L590.3 238L572.2 238Z" fill="#cfcb08" stroke="#cfcb08" stroke-width="0.45" stroke-linejoin="round"/>
<path d="M547.3 274.9L551.1 268.5L558.6 267.4L560.2 262.9L565.4 263.6L567.7 264.4L569.9 267.4L573.7 268.2L577.5 266.7L576.7 262.1L573.7 259.1L574.5 255.4L579.7 253.8L582 256.1L582.8 250.1L582 245.6L587.3 244L589.5 248.6L596.3 249.3L602.4 248.6L606.1 254.6L609.9 258.4L614.4 257.6L618.2 259.1L622 259.9L626.5 258.8L628 262.1L629.5 264.4L623.5 266.7L618.9 268.9L616.7 272.7L612.9 275.7L612.2 280.2L608.4 283.2L603.9 284.7L599.3 285.5L594.1 285.5L596.3 287.8L594.8 292.3L594.1 296.1L587.3 295.3L581.3 293L575.2 290.8L570.7 287L567.7 284L564.7 286.3L560.9 285.5L555.6 283.2L549.6 280.2L545.8 277.2Z" fill="#cbcbcb" stroke="#cbcbcb" stroke-width="0.45" stroke-linejoin="round"/>
<path d="M563.7 246.8L565.4 243.4L569.7 240.8L574.7 240.5L575.6 243.4L571.4 245.9L569.7 249.3L571.4 253.6L573.9 256.9L576.4 261.2L577.6 266.3L574.7 268.3L570.5 267.1L568 262.9L567.1 257.8L565.4 253.6L563.7 250.2Z" fill="#fff" stroke="#fff" stroke-width="0.45" stroke-linejoin="round"/>
<path d="M613.7 255.4L618.9 253.1L623.5 251.6L629.5 252.3L634 253.8L631 256.9L626.5 258.4L622 259.9L618.2 259.1L614.4 257.6Z" fill="#e8901a" stroke="#e8901a" stroke-width="0.45" stroke-linejoin="round"/>
<path d="M558.6 267.4L560.2 271.2L562.4 275.7L565.4 280.2L567.7 284" fill="none" stroke="#b4b4b4" stroke-width="0.5" stroke-linejoin="round" stroke-linecap="round"/>
<path d="M577.5 266.7L582 265.2L587.3 267.4L592.6 269.7L593.3 274.2L592.6 279.5L594.1 285.1" fill="none" stroke="#b4b4b4" stroke-width="0.5" stroke-linejoin="round" stroke-linecap="round"/>
<path d="M582 256.1L587.3 257.6L593.3 261.4L599.3 265.2L602.4 267.4L598.6 270.4L594.8 271.9L592.6 269.7" fill="none" stroke="#b4b4b4" stroke-width="0.5" stroke-linejoin="round" stroke-linecap="round"/>
<path d="M602.4 267.4L607.6 266.7L608.4 263.6L612.2 261.4L617.4 259.1" fill="none" stroke="#b4b4b4" stroke-width="0.5" stroke-linejoin="round" stroke-linecap="round"/>
<path d="M608.4 263.6L614.4 264.4L618.9 263.6L623.5 264.4L628 262.6" fill="none" stroke="#b4b4b4" stroke-width="0.5" stroke-linejoin="round" stroke-linecap="round"/>
<path d="M650.5 235L660 230L670 231.2L676.2 225L685 228.8L696.2 231.2L707.5 230L713.8 236.2L720 238.8L715 243.8L707.5 245L700 250L690 255L680 253.8L670 251.2L665 245L657.5 243.8L653.8 238.8Z" fill="#f5c006" stroke="#f5c006" stroke-width="0.45" stroke-linejoin="round"/>
<path d="M622.5 261.2L635 252.5L638.8 243.8L645 240L648.8 235L653.8 238.8L657.5 243.8L665 245L670 251.2L680 253.8L690 255L700 250L707.5 245L715 243.8L720 238.8L713.8 236.2L716.2 230L721.2 220L730 219.5L735 227.5L742.5 233.8L745 237.5L752.5 236.2L750 243.8L745 250L741.2 253.8L735 256.2L730 261.2L723.8 263.8L717.5 263.8L722.5 269.5L720 267.5L723.8 273.8L725 282.5L725 287.5L720 293.8L713.8 298.8L707.5 302.5L701.2 304.5L696.2 306.2L690 301.2L682.5 303.8L677.5 298.8L673.8 291.2L667.5 290L660 291.2L653.8 290L647.5 291.2L640 288.8L635 285L630 278.8L626.2 273.8L622 267.5Z" fill="#7fb000" stroke="#7fb000" stroke-width="0.45" stroke-linejoin="round"/>
<path d="M696.2 308L700 307L700.5 310.5L697.5 311.5Z" fill="#7fb000" stroke="#7fb000" stroke-width="0.45" stroke-linejoin="round"/>
<path d="M720.5 298.8L723.8 297L724.5 301.2L722 305Z" fill="#7fb000" stroke="#7fb000" stroke-width="0.45" stroke-linejoin="round"/>
<path d="M730.6 262.1L733.4 257.9L737.7 255.8L741.9 252.3L743.3 254.4L740.5 258.6L738.4 262.1L736.2 264.3L732.7 265Z" fill="#cbcbcb" stroke="#cbcbcb" stroke-width="0.45" stroke-linejoin="round"/>
<path d="M734.1 265.7L738.4 263.6L740.5 267.8L740.9 271.3L739.1 274.2L735.5 273.4L733.4 269.2Z" fill="#7fb000" stroke="#7fb000" stroke-width="0.45" stroke-linejoin="round"/>
<path d="M767.3 245.9L769.4 244.5L773 246.6L776.5 248L775.8 250.8L772.3 253L769.4 255.1L766.6 254.4L763.8 255.8L763.1 253L765.2 250.8Z" fill="#3f9e08" stroke="#3f9e08" stroke-width="0.45" stroke-linejoin="round"/>
<path d="M764.5 256.5L767.3 257.2L768 260.7L766.6 265.7L762.4 268.5L761 271.3L757.4 273.4L753.9 275.6L750.4 277L746.1 278L742.6 279.1L741.2 277.4L744.7 275.6L748.2 272L753.2 269.9L756.7 266.4L760.3 265.7L763.1 262.1Z" fill="#3f9e08" stroke="#3f9e08" stroke-width="0.45" stroke-linejoin="round"/>
<path d="M740 280L745 281.2L743.8 286.2L740.5 285Z" fill="#3f9e08" stroke="#3f9e08" stroke-width="0.45" stroke-linejoin="round"/>
<path d="M746.2 278L751.2 277L750 280L747 280.5Z" fill="#3f9e08" stroke="#3f9e08" stroke-width="0.45" stroke-linejoin="round"/>
<path d="M612 293.2L610.6 288.3L614.8 284.1L617.7 279.8L619.8 275.6L624 271.4L628.2 271.4L633.2 276.3L636 281.2L637.9 284.8L635.3 288.3L639.5 291.1L645.2 292.5L651.6 294L653 297.5L653.7 301L655.1 303.8L653 305.3L650.1 306L648 308.8L643.8 312.3L639.5 315.8L636 320.1L634.6 324.3L633.9 329.3L631.1 334.2L628.2 333.5L625.4 330L623.3 324.3L621.2 318.7L619.1 313L617.7 307.4L614.8 306L611.3 305.3L609.9 301.7L613.4 300.3L612.7 296.8L608.5 295.4L608.5 291.8Z" fill="#86b40a" stroke="#86b40a" stroke-width="0.45" stroke-linejoin="round"/>
<path d="M651.6 291.6L654.4 292.5L658.6 292.1L662.1 291.1L666.4 289L670.6 288.3L673.4 290.4L672 293.2L669.9 295.4L667.8 298.2L665 300.3L662.9 303.8L661.4 301.7L660.7 298.9L658.6 297.5L655.8 295.4L652.3 294.2L650.8 293.2Z" fill="#86b40a" stroke="#86b40a" stroke-width="0.45" stroke-linejoin="round"/>
<path d="M634.6 285.5L638.1 284.1L643.8 287.6L649.4 290.4L652.3 291.8L651.6 294L645.2 292.5L639.5 291.1L635.3 288.3Z" fill="#cbcbcb" stroke="#cbcbcb" stroke-width="0.45" stroke-linejoin="round"/>
<path d="M654.4 290.8L658.6 290.4L658.6 292.1L654.8 292.5Z" fill="#ececec" stroke="#ececec" stroke-width="0.45" stroke-linejoin="round"/>
<path d="M652.3 294L655.8 295.4L658.6 297.5L660.7 298.9L660 303.1L660.7 306.7L657.9 303.8L655.8 304.5L653.7 301L653 297.5Z" fill="#e0601a" stroke="#e0601a" stroke-width="0.45" stroke-linejoin="round"/>
<path d="M633.2 331.4L635.3 330L637.4 332.8L637 336.3L635 338.2L633.6 335.6Z" fill="#f5d000" stroke="#f5d000" stroke-width="0.45" stroke-linejoin="round"/>
<path d="M661.9 322.2L662.9 322.2L662.4 327.1L661.6 327.1Z" fill="#86b40a" stroke="#86b40a" stroke-width="0.45" stroke-linejoin="round"/>
<path d="M665 300.3L667.8 298.2L669.9 295.4L672 293.2L673.4 290.4L674.9 292.5L675.6 297.5L678.4 302.4L681.2 305.3L679.1 307.4L675.6 307.4L672.7 310.2L672 313.7L674.2 318.7L674.9 324.3L674.2 328.6L673.4 324.3L672.3 319.4L669.9 317.3L666.4 318L665 313.7L663.6 308.8L661.4 306.7L662.9 303.8Z" fill="#cbcbcb" stroke="#cbcbcb" stroke-width="0.45" stroke-linejoin="round"/>
<path d="M594.1 285.5L599.3 285.5L603.9 284.7L608.4 283.2L612.2 280.2L612.9 275.7L616.7 272.7L618.9 268.9L623.5 266.7L628 267.4L630.3 271.2L626.5 273.4L623.5 276.5L622 280.2L618.9 283.2L615.9 286.3L614.4 290.8L612.2 294.5L613.7 298.3L609.1 299.8L605.4 295.3L600.9 296.1L594.8 296.8L594.8 292.3L596.3 287.8Z" fill="#e8951a" stroke="#e8951a" stroke-width="0.45" stroke-linejoin="round"/>
<path d="M600 286.2L604.9 283.4L609.9 280.5L612.7 276.3L615.5 272.1L618.4 269.2L623.3 267.8L626.8 271.4L626.8 274.9L623.3 277.7L621.2 281.9L618.4 286.2L614.1 289.7L612 293.2L613.4 299.6L608.5 300.3L605.6 296.8L600 296.1Z" fill="#e8951a" stroke="#e8951a" stroke-width="0.45" stroke-linejoin="round"/>
<path d="M619.8 269L623.3 273.2" fill="none" stroke="#fff" stroke-width="0.6" stroke-linejoin="round" stroke-linecap="round"/>
<path d="M622.9 270.1L626.4 274.3" fill="none" stroke="#fff" stroke-width="0.6" stroke-linejoin="round" stroke-linecap="round"/>
<path d="M626 271.2L629.5 275.5" fill="none" stroke="#fff" stroke-width="0.6" stroke-linejoin="round" stroke-linecap="round"/>
<path d="M629.1 272.3L632.6 276.6" fill="none" stroke="#fff" stroke-width="0.6" stroke-linejoin="round" stroke-linecap="round"/>
<path d="M632.2 273.5L635.7 277.7" fill="none" stroke="#fff" stroke-width="0.6" stroke-linejoin="round" stroke-linecap="round"/>
<path d="M624 275.6L626.1 278.4" fill="none" stroke="#fff" stroke-width="0.6" stroke-linejoin="round" stroke-linecap="round"/>
<path d="M626.6 275.9L628.7 278.7" fill="none" stroke="#fff" stroke-width="0.6" stroke-linejoin="round" stroke-linecap="round"/>
<path d="M629.1 276.2L631.2 279" fill="none" stroke="#fff" stroke-width="0.6" stroke-linejoin="round" stroke-linecap="round"/>
<path d="M662.1 290.8L663.8 289.7" fill="none" stroke="#fff" stroke-width="0.6" stroke-linejoin="round" stroke-linecap="round"/>
<path d="M665 290L666.7 288.9" fill="none" stroke="#fff" stroke-width="0.6" stroke-linejoin="round" stroke-linecap="round"/>
<path d="M667.8 289.2L669.5 288" fill="none" stroke="#fff" stroke-width="0.6" stroke-linejoin="round" stroke-linecap="round"/>
<path d="M673.6 288.3L724.4 288.3L721 294.2L715.9 298.5L710.8 301.9L704.9 304.4L699.8 305.3L693.9 304.4L689.7 301.5L683.7 301.9L681.2 304.4L676.9 301.9L676.1 295.1Z" fill="#7fb000" stroke="#7fb000" stroke-width="0.45" stroke-linejoin="round"/>
<path d="M671.9 309.5L674.4 306.9L678.6 307.8L683.7 306.9L687.1 310.3L688 315.4L685.4 319.7L682.9 321.4L683.7 324.7L680.3 323.9L676.9 323.1L675.3 326.4L676.1 330.7L678.6 334.9L679.5 336.6L676.9 337.5L674.4 334.9L673.6 331.5L673.6 323.9L672.7 317.1Z" fill="#8fb80a" stroke="#8fb80a" stroke-width="0.45" stroke-linejoin="round"/>
<path d="M676.9 301.9L681.2 304.4L683.7 302.7L686.3 306.1L689.7 310.3L691.4 315.4L692.2 319.7L688.8 320.5L688 315.4L687.1 310.3L683.7 306.9L678.6 307.8Z" fill="#cbcbcb" stroke="#cbcbcb" stroke-width="0.45" stroke-linejoin="round"/>
<path d="M681.2 304.4L683.7 301.9L689.7 301.5L693.9 304.4L691.4 306.9L689.7 310.3L693.1 315.4L696.4 320.5L697.3 324.7L693.9 328.1L689.7 331.5L687.1 330.7L690.5 326.4L693.1 323.1L692.2 319.7L691.4 315.4L689.7 310.3L686.3 306.1L683.7 302.7Z" fill="#e8d008" stroke="#e8d008" stroke-width="0.45" stroke-linejoin="round"/>
<path d="M682.9 321.4L688 320.5L692.2 320.2L693.1 323.1L690.5 326.4L687.1 329L683.7 326.4Z" fill="#d4581a" stroke="#d4581a" stroke-width="0.45" stroke-linejoin="round"/>
<path d="M676.9 337.5L679.5 336.6L682.9 340L686.3 344.2L687.1 347.6L684.6 347.6L681.2 344.2L677.8 340.8Z" fill="#4fa00a" stroke="#4fa00a" stroke-width="0.45" stroke-linejoin="round"/>
<path d="M666.4 339.5L671 338.8L676.1 342.5L681.2 348.5L686.3 353.6L690.5 358.6L691.4 362.9L688.8 363.7L683.7 360.3L677.8 354.4L672.7 347.6L668.5 342.5Z" fill="#a5bd0a" stroke="#a5bd0a" stroke-width="0.45" stroke-linejoin="round"/>
<path d="M691.4 362.9L699 364.6L707.5 365.4L714.2 367.1L718.5 368.8L717.6 370L710.8 369.3L702.4 368L693.9 365.9L690.5 364.6Z" fill="#a5bd0a" stroke="#a5bd0a" stroke-width="0.45" stroke-linejoin="round"/>
<path d="M719.7 369L726.9 368" fill="none" stroke="#a5bd0a" stroke-width="1.1" stroke-linejoin="round" stroke-linecap="round"/>
<path d="M727.8 371.4L732.9 368.3L734.2 369L729.5 372.7Z" fill="#a5bd0a" stroke="#a5bd0a" stroke-width="0.45" stroke-linejoin="round"/>
<path d="M732 368.6L735.4 367.3L735.8 368.3L733.2 369.7Z" fill="#cbcbcb" stroke="#cbcbcb" stroke-width="0.45" stroke-linejoin="round"/>
<path d="M696.4 348.5L700.7 346.8L704.9 348.5L710.8 344.2L715.9 341.7L717.6 345.9L715.1 351.9L712.5 357.8L708.3 359.5L703.2 357.8L698.1 356.1L695.6 351.9Z" fill="#a5bd0a" stroke="#a5bd0a" stroke-width="0.45" stroke-linejoin="round"/>
<path d="M698.1 347.6L702.4 344.2L707.5 340.8L711.7 337.5L716.8 337.5L719 340L715.9 341.7L710.8 344.2L704.9 348.5L700.7 346.8Z" fill="#4fa00a" stroke="#4fa00a" stroke-width="0.45" stroke-linejoin="round"/>
<path d="M718.5 355.3L721.9 349.3L727.8 347.6L732 346.8L729.5 350.2L725.3 351.9L723.6 355.3L726.9 357.8L724.4 359.5L726.1 362.9L723.6 362.9L721 358.6L719.7 362L717.6 361.2Z" fill="#a5bd0a" stroke="#a5bd0a" stroke-width="0.45" stroke-linejoin="round"/>
<path d="M721 312L725.3 311.2L726.9 315.4L725.3 319.7L727.8 321.4L731.2 323.9L732.9 326.4L730.3 327.3L726.9 324.7L724.4 325.6L721.9 322.2L720.2 317.1Z" fill="#c5c408" stroke="#c5c408" stroke-width="0.45" stroke-linejoin="round"/>
<path d="M725.3 328.1L729.5 326.4L732.9 329L730.3 331.5L726.9 330.7Z" fill="#c5c408" stroke="#c5c408" stroke-width="0.45" stroke-linejoin="round"/>
<path d="M725.3 334.9L729.5 332.4L733.7 332.4L734.6 336.6L731.2 339.2L727.8 337.5Z" fill="#c5c408" stroke="#c5c408" stroke-width="0.45" stroke-linejoin="round"/>
<path d="M714.2 332.4L720.2 327.3" fill="none" stroke="#c5c408" stroke-width="0.9" stroke-linejoin="round" stroke-linecap="round"/>
<path d="M721 298.5L723.6 296.8L724.7 299.3L722.7 303.6L721 301.9Z" fill="#7fb000" stroke="#7fb000" stroke-width="0.45" stroke-linejoin="round"/>
<path d="M696.4 308.6L699.8 307.8L700.7 310.3L697.3 311.7Z" fill="#7fb000" stroke="#7fb000" stroke-width="0.45" stroke-linejoin="round"/>
<path d="M737.1 347.6L739.3 346.8L739.7 351.9L737.6 352.4Z" fill="#a5bd0a" stroke="#a5bd0a" stroke-width="0.45" stroke-linejoin="round"/>
<path d="M730.3 354.4L734.6 355.3" fill="none" stroke="#a5bd0a" stroke-width="1" stroke-linejoin="round" stroke-linecap="round"/>
<path d="M736.3 356.4L741.4 357.5" fill="none" stroke="#a5bd0a" stroke-width="1" stroke-linejoin="round" stroke-linecap="round"/>
<path d="M743.9 352.7L748.1 351.9L752.4 353.6L754.9 352.7L758.3 354.4L765.9 356.1L765.9 369.7L761.7 368.8L758.3 365.4L754.9 362.9L751.5 359.5L747.3 357.8L744.7 355.3Z" fill="#a5bd0a" stroke="#a5bd0a" stroke-width="0.45" stroke-linejoin="round"/>
<path d="M765.9 356.1L770.2 356.9L775.3 360.3L779.5 363.7L782 367.1L786.3 370.5L787.1 373.1L782 372.7L778.6 369.7L773.6 369.7L765.9 369.7Z" fill="#cbcbcb" stroke="#cbcbcb" stroke-width="0.45" stroke-linejoin="round"/>
<path d="M781.2 362.9L786.3 361.2L790.5 357.8L791.4 360.3L788 363.7L782.9 364.6Z" fill="#cbcbcb" stroke="#cbcbcb" stroke-width="0.45" stroke-linejoin="round"/>
<path d="M795.6 363.2L798.1 364.9" fill="none" stroke="#d9d9d9" stroke-width="0.8" stroke-linejoin="round" stroke-linecap="round"/>
<path d="M800.3 366.6L803.2 368.6" fill="none" stroke="#d9d9d9" stroke-width="0.8" stroke-linejoin="round" stroke-linecap="round"/>
<path d="M805.4 369.7L810 373.1" fill="none" stroke="#d9d9d9" stroke-width="0.8" stroke-linejoin="round" stroke-linecap="round"/>
<path d="M521.6 251.1L524.4 246.2L527.2 242.7L532.1 241.9L534.3 242.7L534.3 244.8L537.8 246.2L541.3 244.1L539.9 241.9L543.4 240.5L544.2 242.7L546.3 244.8L549.1 249L550.5 253.2L549.1 255.4L543.4 255.4L536.4 254.7L530.7 255.4L525.8 256.1L522.3 255.4Z" fill="#fff" stroke="#fff" stroke-width="0.45" stroke-linejoin="round"/>
<path d="M518 256.8L522.3 255.4L525.8 256.4L530.7 255.6L536.4 254.9L543.4 255.6L549.1 255.6L554.7 256.4L558.3 258.2L560.4 262L558.3 263.8L556.9 266.7L550.5 267.4L546.3 268.1L542 270.2L537.8 268.8L533.6 270.2L529.3 269.9L525.1 270.5L520.8 267.4L518.7 263.1L518 259.6Z" fill="#9aba0a" stroke="#9aba0a" stroke-width="0.45" stroke-linejoin="round"/>
<path d="M516.9 254.9L521.1 254L522 256.4L518 257.8Z" fill="#9aba0a" stroke="#9aba0a" stroke-width="0.45" stroke-linejoin="round"/>
<path d="M520.1 258.3L521.6 257.3L524.4 257L524.7 257.7L522.7 258.4L520.7 259Z" fill="#fff" stroke="#fff" stroke-width="0.45" stroke-linejoin="round"/>
<path d="M532.1 272.3L536.4 270.9L535.7 273.7Z" fill="#f0c808" stroke="#f0c808" stroke-width="0.45" stroke-linejoin="round"/>
<path d="M537.9 274.7L539.6 270.8L542.1 270L550.6 270L549.7 273.4L547.2 276.8L544.2 278.5L540.4 280.2L538.3 278.9Z" fill="#b83222" stroke="#b83222" stroke-width="0.45" stroke-linejoin="round"/>
<path d="M537.5 275.1L538.7 273.8L539.2 275.9L537.9 277.6Z" fill="#6aab0c" stroke="#6aab0c" stroke-width="0.45" stroke-linejoin="round"/>
<path d="M534.9 281L536.2 279.3L537.2 278.9L536.6 282.3L535.8 286.1L535.3 284.4Z" fill="#3a9a08" stroke="#3a9a08" stroke-width="0.45" stroke-linejoin="round"/>
<path d="M536.6 282.3L538.3 278.9L540.4 280.2L544.2 278.5L546.4 278.9L545.5 280.6L542.1 282.3L540.8 284L539.2 286.1L536.2 286.9L535.8 286.1Z" fill="#f0c808" stroke="#f0c808" stroke-width="0.45" stroke-linejoin="round"/>
<path d="M550.5 253.2L556.2 254L560.4 256.8L559 258.9L554.7 256.8L551.2 255.4Z" fill="#f0c808" stroke="#f0c808" stroke-width="0.45" stroke-linejoin="round"/>
<path d="M559 258.9L563.2 256.8L568.9 257.5L570.6 260.3L566 262L561.8 262.6L560.4 262Z" fill="#d4681a" stroke="#d4681a" stroke-width="0.45" stroke-linejoin="round"/>
<path d="M552.3 314.7L556.5 312.6L562.1 313.3L567.8 311.2L574.2 309.1L575.6 314.7L570.6 318.2L563.6 321.1L557.2 323.9L555.8 323.9Z" fill="#cbcbcb" stroke="#cbcbcb" stroke-width="0.45" stroke-linejoin="round"/>
<path d="M536.2 286.9L539.2 286.1L540.8 284L542.1 282.3L545.5 280.6L546.4 278.9L549.7 281L554.8 284.4L559.1 286.5L562.5 287.8L565.8 289.1L568.8 292.9L571.4 295.4L572.6 298L575 299.2L573.4 299.9L579.1 302L581.2 304.1L580.5 308.4L573.4 310.5L567.8 312.6L562.1 314.7L556.5 314L553.7 316.1L549.4 311.2L545.2 304.1L542.4 297.1L543.8 301.4L540.4 295.4L537 290.8L534.9 288.2Z" fill="#a0bc0a" stroke="#a0bc0a" stroke-width="0.45" stroke-linejoin="round"/>
<path d="M561.2 286.9L563.3 285.3L565.4 287.4L565.8 289.1L562.5 287.8Z" fill="#e8901a" stroke="#e8901a" stroke-width="0.45" stroke-linejoin="round"/>
<path d="M580.5 298.5L582.6 294.2L584.7 298.5L590.4 302.7L588.3 306.9L584.7 310.5L580.5 313.3L576.3 315.4L573.4 310.5L580.5 308.4L581.2 304.1L579.1 302Z" fill="#f5d000" stroke="#f5d000" stroke-width="0.45" stroke-linejoin="round"/>
<path d="M573.4 299.9L580.5 298.5L581.2 295.6L582.6 294.2L581.6 304.1L579.1 302Z" fill="#a5bd0a" stroke="#a5bd0a" stroke-width="0.45" stroke-linejoin="round"/>
<path d="M571.3 294.2L572.3 294.2L572.3 296.4L571.3 296.4Z" fill="#7db20c" stroke="#7db20c" stroke-width="0.45" stroke-linejoin="round"/>
<path d="M576.3 323.9L578.8 323.9L578.8 324.9L576.3 324.9Z" fill="#cbcbcb" stroke="#cbcbcb" stroke-width="0.45" stroke-linejoin="round"/>
<path d="M441.6 251.2L447.2 249.3L457.6 252L467.2 254.1L464.8 257.6L461.6 261.6L460 265.6L456 268L451.2 270.4L447.2 268.8L444 267.2L442.4 262.4Z" fill="#8db80a" stroke="#8db80a" stroke-width="0.45" stroke-linejoin="round"/>
<path d="M441.6 255.2L445.6 255.2L446.4 260.8L444 267.2L441.6 265.6Z" fill="#9aba0c" stroke="#9aba0c" stroke-width="0.45" stroke-linejoin="round"/>
<path d="M458.4 243.2L476 241.6L477.6 244.8L476.8 249.6L472.8 252L467.2 254.1L457.6 252L457.1 246.4Z" fill="#68aa0a" stroke="#68aa0a" stroke-width="0.45" stroke-linejoin="round"/>
<path d="M475.8 244L478.6 242.3L482.6 240.6L486 240.1L489.4 241.2L490.5 243.5L488.8 245.7L487.7 246.3L488.2 248L490.5 250.3L493.3 253.1L496.2 255.9L499 258.2L501 259.9L499.5 261L497.9 259.9L496.7 261.6L497.3 263.2L496.7 265.5L496.2 267.8L494.5 268.1L494.7 265L495 262.1L493.9 259.9L491.6 257.6L488.8 255.9L486 254.2L484.3 252.5L483.2 250.3L482 248.3L480.3 247.7L478.6 248.6L476.9 247.1L475.8 245.7Z" fill="#8fb80a" stroke="#8fb80a" stroke-width="0.45" stroke-linejoin="round"/>
<path d="M488.4 265.3L495.4 264.5L494.7 268.1L491.2 267.4Z" fill="#8fb80a" stroke="#8fb80a" stroke-width="0.45" stroke-linejoin="round"/>
<path d="M478.9 257.3L480.6 256.8L482.1 257.6L482.3 259.9L481.8 263.2L480.3 263.8L479.2 262.1L478.9 259.3Z" fill="#8fb80a" stroke="#8fb80a" stroke-width="0.45" stroke-linejoin="round"/>
<path d="M480.3 253.6L481.5 251.9L482.1 253.1L481.9 255.9L480.6 256.2Z" fill="#5aa60a" stroke="#5aa60a" stroke-width="0.45" stroke-linejoin="round"/>
<path d="M465.9 261L468.5 259.9L469 261.3L467.3 262.7Z" fill="#8db80a" stroke="#8db80a" stroke-width="0.45" stroke-linejoin="round"/>
<path d="M474.7 241.2L476.4 237.8L478.6 236.1L482.6 236.7L485.4 237.5L486.6 239L484.9 239.8L482.6 240.6L480.9 241.8L479.2 240.9L476.9 242.3L475.3 242.3Z" fill="#3a9a08" stroke="#3a9a08" stroke-width="0.45" stroke-linejoin="round"/>
<path d="M485.4 237.5L490.5 235L498.4 235L497.3 237.3L493.9 239L491.6 240.1L489.4 241.2L486 240.1L486.6 239Z" fill="#7db20c" stroke="#7db20c" stroke-width="0.45" stroke-linejoin="round"/>
<path d="M490.5 243.5L491.6 240.6L493.9 240.1L496.2 241.2L495.6 243.5L492.8 244.3Z" fill="#c8c808" stroke="#c8c808" stroke-width="0.45" stroke-linejoin="round"/>
<path d="M490.5 243.5L492.8 244.3L495.6 243.5L498.4 242.9L501.8 243.5L502.9 245.2L500.7 245.7L499 245.5L496.7 246.3L496.2 248L497.9 250.3L499.5 251.9L501.8 254.8L502.9 256.5L501.8 256.8L499.5 254.5L496.7 251.4L493.9 248.6L491.6 246.3L489.9 245.5Z" fill="#f0a010" stroke="#f0a010" stroke-width="0.45" stroke-linejoin="round"/>
<path d="M496.7 246.6L499.5 245.7L502.9 245.7L503.5 248L502.9 250.3L501.8 251.9L500.4 252.5L499 250.3L497.3 248.3Z" fill="#e07818" stroke="#e07818" stroke-width="0.45" stroke-linejoin="round"/>
<path d="M501.8 243.5L504.6 242.3L506.9 244L508.6 246.3L510 247.4L510 250.8L508 251.4L506.9 250.3L505.2 251.4L503.5 250.3L503.5 248L502.9 245.7Z" fill="#f0b010" stroke="#f0b010" stroke-width="0.45" stroke-linejoin="round"/>
<path d="M501.8 251.9L502.9 250.3L505.2 251.4L504.6 253.6L502.9 254.2Z" fill="#f0a010" stroke="#f0a010" stroke-width="0.45" stroke-linejoin="round"/>
<path d="M504.9 251.4L506.9 250.8L508 252.5L506.9 254.5L505.2 254.2Z" fill="#d9dde6" stroke="#d9dde6" stroke-width="0.45" stroke-linejoin="round"/>
<path d="M505.8 254.8L508 251.9L510.4 251.1L510.4 257.3L506.9 257.6Z" fill="#f0c808" stroke="#f0c808" stroke-width="0.45" stroke-linejoin="round"/>
<path d="M502.9 254.5L504.9 254.2L505.8 255.9L505.5 258.7L504.1 259.9L502.9 257.6Z" fill="#d4521c" stroke="#d4521c" stroke-width="0.45" stroke-linejoin="round"/>
<path d="M510.3 249.7L515.2 250.4L521.6 249.3L521.1 253.2L518 255.4L513.1 256.4L510.3 254Z" fill="#d8cc08" stroke="#d8cc08" stroke-width="0.45" stroke-linejoin="round"/>
<path d="M505.6 259.6L508.1 255.4L513.1 256.4L518 255.4L517.3 257.8L512.4 258.2L510.3 260.3L512.4 263.8L513.8 267.4L511 268.8L508.8 266L506.7 263.1Z" fill="#f0c808" stroke="#f0c808" stroke-width="0.45" stroke-linejoin="round"/>
<path d="M511.7 271.6L517.3 272.3L517.3 273.7L512.1 273Z" fill="#f0c808" stroke="#f0c808" stroke-width="0.45" stroke-linejoin="round"/>
<path d="M423 319L425 306L432 300L540 300L544 310L546 319L552 325L556 329L563 327L572 324L571 330L564 340L556 349L551 354L547 360L546 367L548 374L549 380L544 388L537.6 391.8L536.2 396L536.8 401L532 406L524 412L514 416L508 412L500 400L492 400L490 394L487 387L489 379L490 372L488 364L484 358L481 353L482 347L484 346L482 337L479 341L474 342L471 338L463 338L459 340L450 341L444.4 341L440 338L436.4 334.4L431.6 329.4L427.6 324.4Z" fill="#cbcbcb" stroke="#cbcbcb" stroke-width="0.45" stroke-linejoin="round"/>
<path d="M446.4 274.4L450.4 271.2L457.6 271.2L458.4 280L452 284.8L444 288L439.2 291.2L432 291.2L436.8 287.2L441.6 282.4L444.8 277.6Z" fill="#f5d000" stroke="#f5d000" stroke-width="0.45" stroke-linejoin="round"/>
<path d="M457.6 271.2L466.4 268.8L478.4 268.5L478.4 270.4L477.3 276L479.2 279.2L481.6 283.2L481.6 291.2L484 296L482.8 294L487.9 301L482.8 303.6L473.8 309.9L467.5 309.9L457.9 303.8L451.2 299.2L447.2 296.8L442.1 293.4L442.1 291.2L444.4 288.4L458.4 280Z" fill="#c8581a" stroke="#c8581a" stroke-width="0.45" stroke-linejoin="round"/>
<path d="M478.4 270.4L481.6 268L484 268.8L483.2 273.6L485.6 276.8L483.2 280L481.6 283.2L479.2 279.2L477.3 276Z" fill="#f0c808" stroke="#f0c808" stroke-width="0.45" stroke-linejoin="round"/>
<path d="M483.2 280L487.2 278.4L495.2 282.4L500 283.2L504.8 280L509.6 279.2L516 282.4L516 303.2L516 307.2L512 308L498.4 301.6L493.6 300.8L488.8 300L484 296L481.6 291.2L481.6 283.2Z" fill="#cbcbcb" stroke="#cbcbcb" stroke-width="0.45" stroke-linejoin="round"/>
<path d="M515.8 282.3L520.1 282.7L526 282.7L531.1 282.7L534.9 282.3L535.8 286.1L534.9 289.9L536.2 293.3L537.9 297.1L540 301.8L540.4 303.1L515.8 303.1Z" fill="#f5c006" stroke="#f5c006" stroke-width="0.45" stroke-linejoin="round"/>
<path d="M431.9 291.2L442.7 291.2L442.7 294.6L435.3 294.6L435.3 299.7L432.5 300.8L432.5 304.8L424.3 305.9L425.7 303.1L428.6 297.4Z" fill="#cbcbcb" stroke="#cbcbcb" stroke-width="0.45" stroke-linejoin="round"/>
<path d="M435.3 294.6L442.7 294.6L442.7 292.9L447.8 296.3L451.2 298.6L447.8 298L448.9 318.3L435.3 318.9L431.9 316.6L425.2 316.1L425.7 311L424.3 305.9L432.5 304.8L432.5 300.8L435.3 299.7Z" fill="#b02820" stroke="#b02820" stroke-width="0.45" stroke-linejoin="round"/>
<path d="M447.8 298L451.2 298.6L457.9 303.1L468.1 309.3L469.2 312.1L469 318.3L463.6 319.5L459.6 320L455.7 323.4L452.9 326.2L450 329.1L448.9 326.8L446.6 327.4L443.8 324.5L439.3 323.4L435.9 324L434.8 321.2L435.3 318.9L448.9 318.3Z" fill="#c4461c" stroke="#c4461c" stroke-width="0.45" stroke-linejoin="round"/>
<path d="M422.9 319.5L425.2 316.1L431.9 316.6L435.3 318.9L434.8 321.2L435.9 324L431.9 324L426.3 325.1L425.2 324Z" fill="#c8501c" stroke="#c8501c" stroke-width="0.45" stroke-linejoin="round"/>
<path d="M425.4 320.9L430.8 320.5L431 321.3L425.6 321.7Z" fill="#cbcbcb" stroke="#cbcbcb" stroke-width="0.45" stroke-linejoin="round"/>
<path d="M444 329.4L448.2 328.7L451.8 328.7L454.6 330.1L455 339.3L449.7 340.7L445.1 341L444.3 336.5Z" fill="#e07818" stroke="#e07818" stroke-width="0.45" stroke-linejoin="round"/>
<path d="M450 329.1L452.9 326.2L455.7 323.4L459.6 320L462.5 321.2L465.8 325.7L467 327.4L463.6 327.9L460.2 328.5L455.1 328.5L452.3 329.3Z" fill="#c8421c" stroke="#c8421c" stroke-width="0.45" stroke-linejoin="round"/>
<path d="M455 328.7L461 328.3L461.7 331.6L462.4 337.2L458.8 339L455 339.3Z" fill="#f0a010" stroke="#f0a010" stroke-width="0.45" stroke-linejoin="round"/>
<path d="M463.8 328L466.6 326.6L468.7 328.7L467.3 333L467.3 337.2L464.9 337.6Z" fill="#c8421c" stroke="#c8421c" stroke-width="0.45" stroke-linejoin="round"/>
<path d="M468.7 328.7L469.4 323.8L472.3 321.7L477.9 323.1L484.3 323.8L489.9 322.4L492 325.2L493.4 328.7L490.6 332.3L487.8 335.8L484.3 337.9L480.7 339.3L477.9 342.1L474.4 341.4L471.6 337.9L467.3 337.2L467.3 333Z" fill="#e8901a" stroke="#e8901a" stroke-width="0.45" stroke-linejoin="round"/>
<path d="M493.4 301.2L497 300.9L512.5 309.7L513.2 318.1L509 322.4L510.4 327.3L506.2 330.8L500.5 334.4L497 335.8L493.4 331.6L493.4 328.7L492 325.2L489.9 322.4L490.6 319.5L494.2 313.9L494.9 308.2Z" fill="#b02820" stroke="#b02820" stroke-width="0.45" stroke-linejoin="round"/>
<path d="M480.7 339.3L484.3 337.9L487.8 335.8L490.6 332.3L493.4 331.6L497 335.8L494.9 339.3L494.2 342.9L494.9 346.4L489.9 345.7L482.9 345.7L482.1 342.1Z" fill="#c8501c" stroke="#c8501c" stroke-width="0.45" stroke-linejoin="round"/>
<path d="M534.6 332.4L537.4 327.4L541 320.4L545.2 319L549.4 321.8L553 325.3L555.8 329.5L562.9 334.5L560 338L555.1 340.1L548 342.3L541 340.8L537.4 338.7L533.9 335.2Z" fill="#c8501c" stroke="#c8501c" stroke-width="0.45" stroke-linejoin="round"/>
<path d="M537.4 338.7L541 340.8L548 342.3L549.4 343L548.7 349.3L550.1 355L546.6 359.2L540.3 355L535.3 352.1L534.6 346.5L535.3 342.3Z" fill="#e08c14" stroke="#e08c14" stroke-width="0.45" stroke-linejoin="round"/>
<path d="M528.2 343L533.9 342.3L535.3 343L534.6 346.5L535.3 352.1L530.4 352.9L526.1 353.6L525.4 349.3Z" fill="#f0a010" stroke="#f0a010" stroke-width="0.45" stroke-linejoin="round"/>
<path d="M525.5 357.1L527.4 353.2L535.3 352.5L540.6 355.2L547.2 359.8L546.5 365.7L548.5 373.6L540.6 374.3L535.3 374.9L532.7 371L529.4 368.3L526.1 365L524.8 361.1Z" fill="#e08c14" stroke="#e08c14" stroke-width="0.45" stroke-linejoin="round"/>
<path d="M524 356L527 355.6L526.4 359L524.4 359Z" fill="#b02820" stroke="#b02820" stroke-width="0.45" stroke-linejoin="round"/>
<path d="M487.9 364.4L497.1 364.4L497.8 367.7L503.7 367.7L503.7 365.7L507.7 366.4L508.3 374.9L512.3 374.5L509.6 377.6L508.3 379.5L508.3 387.4L497.8 387.2L486.6 386.8L487.9 379.5L489.9 372.9Z" fill="#b02820" stroke="#b02820" stroke-width="0.45" stroke-linejoin="round"/>
<path d="M487.2 361.7L488.6 361.1L489 363.1Z" fill="#b02820" stroke="#b02820" stroke-width="0.45" stroke-linejoin="round"/>
<path d="M508.3 379.5L509.6 377.6L512.3 374.5L516.2 374.3L519.5 374.9L521.5 372.9L522.2 369.6L525.5 368.3L529.4 368.3L532.7 371L534 374.3L533.4 378.2L530.7 380.2L526.8 381.5L524.1 382.8L521.5 385.5L519.5 388.1L515.6 388.8L511 389L508.3 387.4Z" fill="#ffd700" stroke="#ffd700" stroke-width="0.45" stroke-linejoin="round"/>
<path d="M521.5 372.9L524.8 373.6L525.5 376.9L523.5 377.6L522.2 375.6Z" fill="#cbcbcb" stroke="#cbcbcb" stroke-width="0.45" stroke-linejoin="round"/>
<path d="M486.4 387.3L508 387.9L507.2 394L505.6 402L506.4 407.6L503.2 412.4L497.6 412.9L494.4 406.8L492 398.8L488.8 392.4Z" fill="#e08214" stroke="#e08214" stroke-width="0.45" stroke-linejoin="round"/>
<path d="M508 388.4L515.2 388.9L520 394L523.2 398.8L519.2 402L514.4 406L509.6 406L506.4 408.1L505.6 402L507.2 394Z" fill="#f0a515" stroke="#f0a515" stroke-width="0.45" stroke-linejoin="round"/>
<path d="M516.2 389.4L519.5 388.1L521.5 385.5L524.1 382.8L526.8 384.1L532 384.8L533.4 388.8L532.7 394L530.1 398L526.1 398L522.2 396L519.5 392.7Z" fill="#c4421c" stroke="#c4421c" stroke-width="0.45" stroke-linejoin="round"/>
<path d="M533.4 378.2L535.3 374.9L540.6 374.3L548.5 373.6L548.5 379.5L545.9 384.8L541.9 388.8L537.6 392L536.4 395.3L537.6 401.9L535.3 404.6L532.7 405.9L531.4 403.3L530.7 399.3L532.7 394L533.4 388.8L532 384.8L527.4 381.9L530.7 379.8L533.4 378.2Z" fill="#c4421c" stroke="#c4421c" stroke-width="0.45" stroke-linejoin="round"/>
<path d="M534.7 379.5L536 378.9L537.3 384.8L536 385.5Z" fill="#e8901a" stroke="#e8901a" stroke-width="0.45" stroke-linejoin="round"/>
<path d="M497.6 412.9L503.2 412.4L506.4 408.1L509.6 406L514.4 406L519.2 402L523.2 398.8L529.6 399.1L530.4 404.4L532 408.4L530.4 413.2L526.4 418L521.6 423.6L514.4 426.3L506.4 427.3L500.8 427.6L499.2 422L498.4 417.2Z" fill="#8fb80a" stroke="#8fb80a" stroke-width="0.45" stroke-linejoin="round"/>
<path d="M520 414L522.4 412.4L524 414.8L522.1 417.7L520.2 416.4Z" fill="#c4421c" stroke="#c4421c" stroke-width="0.45" stroke-linejoin="round"/>
<path d="M528.8 407.1L530.7 407.1L530.7 409.7L528.8 409.7Z" fill="#cbcbcb" stroke="#cbcbcb" stroke-width="0.45" stroke-linejoin="round"/>
<path d="M556 384.4L560 382.8L564 378.8L568 375.6L570.4 382.8L568.8 389.2L565.6 397.2L562.4 404.4L559.2 406.5L556 404.4L554.4 398.8L556.8 392.4L556 387.6Z" fill="#c4421c" stroke="#c4421c" stroke-width="0.45" stroke-linejoin="round"/>
<path d="M585.1 393L586.1 393L586.1 394L585.1 394Z" fill="#f5d000" stroke="#f5d000" stroke-width="0.45" stroke-linejoin="round"/>
<path d="M423.5 278.1L424.8 278.1L424.8 279.4L423.5 279.4Z" fill="#8db80a" stroke="#8db80a" stroke-width="0.45" stroke-linejoin="round"/>
<path d="M425.1 288.5L426.1 288.5L426.1 289.4L425.1 289.4Z" fill="#8db80a" stroke="#8db80a" stroke-width="0.45" stroke-linejoin="round"/>
<path d="M429.9 287.7L430.9 287.7L430.9 288.6L429.9 288.6Z" fill="#8db80a" stroke="#8db80a" stroke-width="0.45" stroke-linejoin="round"/>
<path d="M513 308L516 303L516 300" fill="none" stroke="#b2b2b2" stroke-width="0.5" stroke-linejoin="round" stroke-linecap="round"/>
<path d="M510 326L514 329L520 330L528 328L532 333L536 337L536 342" fill="none" stroke="#b2b2b2" stroke-width="0.5" stroke-linejoin="round" stroke-linecap="round"/>
<path d="M514 329L513 335L518 339L524 341L528 345" fill="none" stroke="#b2b2b2" stroke-width="0.5" stroke-linejoin="round" stroke-linecap="round"/>
<path d="M495 342L500 343L508 340L518 339" fill="none" stroke="#b2b2b2" stroke-width="0.5" stroke-linejoin="round" stroke-linecap="round"/>
<path d="M495 347L499 348L497 354L492 360L488 363" fill="none" stroke="#b2b2b2" stroke-width="0.5" stroke-linejoin="round" stroke-linecap="round"/>
<path d="M482 350L488 349L489 354L486 358" fill="none" stroke="#b2b2b2" stroke-width="0.5" stroke-linejoin="round" stroke-linecap="round"/>
<path d="M540 322L536 330" fill="none" stroke="#b2b2b2" stroke-width="0.5" stroke-linejoin="round" stroke-linecap="round"/>
<path d="M556 330L558 340" fill="none" stroke="#b2b2b2" stroke-width="0.5" stroke-linejoin="round" stroke-linecap="round"/>
<path d="M428 326L436 325L440 325L443 328L444 329" fill="none" stroke="#b2b2b2" stroke-width="0.5" stroke-linejoin="round" stroke-linecap="round"/>
<path d="M433 332L439 333L444.4 336" fill="none" stroke="#b2b2b2" stroke-width="0.5" stroke-linejoin="round" stroke-linecap="round"/>
<path d="M462.4 328L463 338" fill="none" stroke="#b2b2b2" stroke-width="0.5" stroke-linejoin="round" stroke-linecap="round"/>
<path d="M465.6 328L466 337.6" fill="none" stroke="#b2b2b2" stroke-width="0.5" stroke-linejoin="round" stroke-linecap="round"/>
<path d="M705 406L707 400L713 394L723 391L727 385L733 381L739 380L743 375L749 375L756 377L755 382L760 385L765 386L767 380L769 374L772 379L775 385L778 391L783 395L787 401L791 406L793 413L792 420L789 426L786 432L784 437L778 438L773 439L768 437L763 433L760 427L758 424L755 428L754 422L749 420L742 420L735 422L729 425L723 427L715 428L710 427L710 420L708 413Z" fill="#3f9e08" stroke="#3f9e08" stroke-width="0.45" stroke-linejoin="round"/>
<path d="M772.4 440L777 441L782 440L781 446L778 452L775 448L773 444Z" fill="#3f9e08" stroke="#3f9e08" stroke-width="0.45" stroke-linejoin="round"/>
<path d="M834 427.4L836.5 428.3L838.8 432.4L841.1 432.4L843.3 435.4L847.1 435.9L845.6 438.9L842.6 441L841.5 444.5L839.5 445.2L838 443L836.1 439.9L838 437.7L837.6 433.9L835.8 430.2Z" fill="#3f9e08" stroke="#3f9e08" stroke-width="0.45" stroke-linejoin="round"/>
<path d="M833.5 443.7L835.8 443.4L836.5 446L835 449L834.3 452.8L831.3 455.8L829 459.5L824.5 460.6L821 459.1L820.7 457L823.7 453.5L827.5 451L830.5 447.9L832 445.2Z" fill="#3f9e08" stroke="#3f9e08" stroke-width="0.45" stroke-linejoin="round"/>
<path d="M823 461.5L824.9 461.1L824.5 463Z" fill="#3f9e08" stroke="#3f9e08" stroke-width="0.45" stroke-linejoin="round"/>
<path d="M818 393L822 397" fill="none" stroke="#d4d4d4" stroke-width="0.8" stroke-linejoin="round" stroke-linecap="round"/>
<path d="M820 382L823 385" fill="none" stroke="#d4d4d4" stroke-width="0.8" stroke-linejoin="round" stroke-linecap="round"/>
<path d="M844 388L850 385" fill="none" stroke="#d4d4d4" stroke-width="0.8" stroke-linejoin="round" stroke-linecap="round"/>
<path d="M795 363L800 367" fill="none" stroke="#d4d4d4" stroke-width="0.8" stroke-linejoin="round" stroke-linecap="round"/>
<path d="M804 368L810 373" fill="none" stroke="#d4d4d4" stroke-width="0.8" stroke-linejoin="round" stroke-linecap="round"/>
<path d="M115.4 302.9L116.6 303.1L116.5 304.1L115.6 304Z" fill="#349a03" stroke="#349a03" stroke-width="0.45" stroke-linejoin="round"/>
<path d="M120.3 305.3L121.7 305.6L121.6 306.7L120.5 306.6Z" fill="#349a03" stroke="#349a03" stroke-width="0.45" stroke-linejoin="round"/>
<path d="M122.3 306.8L123.7 307.1L123.6 308.2L122.5 308.1Z" fill="#349a03" stroke="#349a03" stroke-width="0.45" stroke-linejoin="round"/>
<path d="M124 307.7L126.6 308.2L126.3 310.3L124.4 310Z" fill="#349a03" stroke="#349a03" stroke-width="0.45" stroke-linejoin="round"/>
<path d="M79.4 452L80.6 452.2L80.5 453.2L79.6 453.1Z" fill="#349a03" stroke="#349a03" stroke-width="0.45" stroke-linejoin="round"/>
<path d="M69.8 384.2L71.4 384.5L71.2 385.8L70 385.6Z" fill="#cfcfcf" stroke="#cfcfcf" stroke-width="0.45" stroke-linejoin="round"/>
<path d="M87.5 379.1L88.5 379.3L88.4 380.1L87.7 380Z" fill="#dcdcdc" stroke="#dcdcdc" stroke-width="0.45" stroke-linejoin="round"/>
<path d="M399.3 263.3L400.7 263.6L400.6 264.7L399.5 264.6Z" fill="#9aba0c" stroke="#9aba0c" stroke-width="0.45" stroke-linejoin="round"/>
<path d="M405.4 265L406.6 265.2L406.5 266.2L405.6 266.1Z" fill="#9aba0c" stroke="#9aba0c" stroke-width="0.45" stroke-linejoin="round"/>
<path d="M423.4 277.9L424.6 278.1L424.5 279.1L423.6 279Z" fill="#9aba0c" stroke="#9aba0c" stroke-width="0.45" stroke-linejoin="round"/>
<path d="M329.4 35.5L330.4 35.5L330.4 42.5L329.4 42.5Z" fill="#d6d6d6" stroke="#d6d6d6" stroke-width="0.45" stroke-linejoin="round"/>
<path d="M303.3 75.5L304.3 75.5L304.3 82L303.3 82Z" fill="#e2e2e2" stroke="#e2e2e2" stroke-width="0.45" stroke-linejoin="round"/><g id="logo">
<clipPath id="shc"><path d="M783.9 486.2Q783.9 483.9 786.2 483.9L819.3 483.9Q821.6 483.9 821.6 486.2L821.6 510.5C821.6 519.5 812.5 527.4 802.75 527.4C793 527.4 783.9 519.5 783.9 510.5Z"/></clipPath>
<g clip-path="url(#shc)" fill="#9d2a2e">
<rect x="783.9" y="483.9" width="2.5" height="18.8"/><rect x="788.9" y="483.9" width="2.6" height="18.8"/><rect x="794.1" y="483.9" width="2.6" height="18.8"/><rect x="799" y="483.9" width="2.4" height="18.8"/>
<rect x="804" y="483.9" width="17.6" height="18.8"/>
<rect x="783.9" y="505.2" width="17.5" height="23"/>
<rect x="804" y="505.2" width="2.5" height="23"/><rect x="808.9" y="505.2" width="2.5" height="23"/><rect x="814.1" y="505.2" width="2.5" height="23"/><rect x="819" y="505.2" width="2.6" height="23"/>
</g>
<g fill="#fff"><circle cx="811.9" cy="489.5" r="2.9"/><circle cx="811.9" cy="497.4" r="2.9"/><circle cx="793.1" cy="510.7" r="2.8"/><circle cx="793.1" cy="518.5" r="2.8"/></g>
<text transform="scale(0.68,1)" x="1217.3 1235.2 1274.7 1312.8" y="526.3" fill="#9d2a2e" font-family="Liberation Sans, sans-serif" font-weight="bold" font-size="58.4">IESE</text>
<text x="830.3" y="536.2" fill="#9d2a2e" font-family="Liberation Sans, sans-serif" font-size="9" textLength="86.5" lengthAdjust="spacing">Business School</text>
</g>
</svg>
<div class="title"><span>Venture Capital Attractiveness Index</span></div>
<div class="ranks">USA #1<br>S Africa #32<br>Morocco #58<br>Nigeria #87<br>Kenya #92</div>
<div class="lg" style="left:71px;width:133px;background:#2f9608"><span>High rank</span></div>
<div class="sep" style="left:206px"></div>
<div class="lg" style="left:209px;width:132.5px;background:#99c932"></div>
<div class="sep" style="left:343px"></div>
<div class="lg" style="left:346px;width:133px;background:#ffd500"></div>
<div class="sep" style="left:480.5px"></div>
<div class="lg" style="left:483px;width:132.5px;background:#ff8c00"></div>
<div class="sep" style="left:617px"></div>
<div class="lg" style="left:619.5px;width:133px;background:#b22222"><span>Low rank</span></div>
<div class="sep" style="left:754px"></div>
<div class="lg" style="left:756px;width:20px;background:#c9c9c9"></div>
</body></html>
